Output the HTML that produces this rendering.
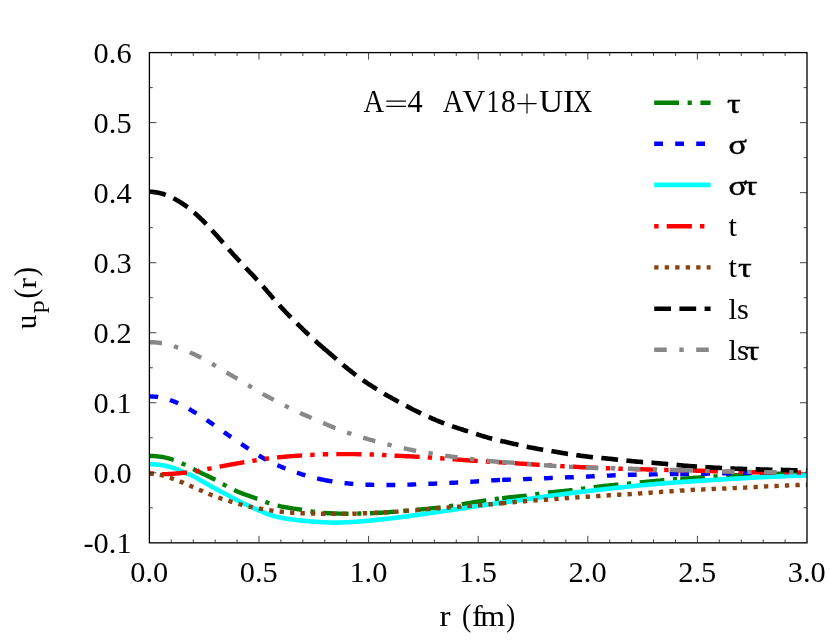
<!DOCTYPE html>
<html><head><meta charset="utf-8"><title>u_p(r)  A=4 AV18+UIX</title>
<style>html,body{margin:0;padding:0;background:#fff;}svg{display:block;will-change:transform;}text{font-family:"Liberation Serif",serif;fill:#000;}</style></head><body>
<svg width="830" height="642" viewBox="0 0 830 642">
<rect x="0" y="0" width="830" height="642" fill="#ffffff"/>
<defs><clipPath id="plot"><rect x="149.4" y="52.6" width="657.6" height="490.1"/></clipPath></defs>
<g fill="none" stroke-linecap="butt" stroke-linejoin="round" clip-path="url(#plot)">
<g stroke="#008000" stroke-width="4.4" stroke-dasharray="24.8 8.6 4.2 8.6">
<path d="M149.4,455.9 L150.4,455.9 L151.4,456.0 L152.4,456.0 L153.4,456.0 L154.4,456.1 L155.4,456.2 L156.4,456.3 L157.4,456.4 L158.4,456.5 L159.4,456.6 L160.4,456.7 L161.4,456.9 L162.4,457.0 L163.3,457.2 L164.3,457.4 L165.3,457.6 L166.3,457.8 L167.3,458.0 L168.3,458.3 L169.3,458.5 L170.3,458.8 L171.3,459.1 L172.3,459.5 L173.3,459.8 L174.3,460.1 L175.3,460.5 L176.3,460.9 L177.3,461.3 L178.3,461.7 L179.3,462.1 L180.3,462.6 L181.3,463.0 L182.3,463.5 L183.3,464.0 L184.3,464.4 L185.3,464.9 L186.3,465.4 L187.3,465.9 L188.3,466.4 L189.3,467.0 L190.3,467.5 L191.2,468.0 L192.2,468.5 L193.2,469.0 L194.2,469.5 L195.2,470.0 L196.2,470.6 L197.2,471.1 L198.2,471.5 L199.2,472.0 L200.2,472.5 L201.2,473.0 L202.2,473.5 L203.2,474.0 L204.2,474.4 L205.2,474.9 L206.2,475.4 L207.2,475.8 L208.2,476.3 L209.2,476.8 L210.2,477.3 L211.2,477.8 L212.2,478.3 L213.2,478.8 L214.2,479.3 L215.2,479.8 L216.2,480.4 L217.2,480.9 L218.1,481.5 L219.1,482.0 L220.1,482.6 L221.1,483.1 L222.1,483.7 L223.1,484.2 L224.1,484.8 L225.1,485.4 L226.1,485.9 L227.1,486.5 L228.1,487.0 L229.1,487.5 L230.1,488.1 L231.1,488.6 L232.1,489.1 L233.1,489.6 L234.1,490.0 L235.1,490.5 L236.1,490.9 L237.1,491.4 L238.1,491.8 L239.1,492.2 L240.1,492.6 L241.1,493.0 L242.1,493.4 L243.1,493.8 L244.1,494.1 L245.1,494.5 L246.0,494.8 L247.0,495.2 L248.0,495.5 L249.0,495.9 L250.0,496.2 L251.0,496.6 L252.0,496.9 L253.0,497.3 L254.0,497.7 L255.0,498.0 L256.0,498.4 L257.0,498.8 L258.0,499.1 L259.0,499.5 L260.0,499.9 L261.0,500.2 L262.0,500.6 L263.0,501.0 L264.0,501.4 L265.0,501.7 L266.0,502.1 L267.0,502.4 L268.0,502.8 L269.0,503.1 L270.0,503.4 L271.0,503.8 L272.0,504.1 L272.9,504.4 L273.9,504.7 L274.9,504.9 L275.9,505.2 L276.9,505.5 L277.9,505.7 L278.9,505.9 L279.9,506.2 L280.9,506.4 L281.9,506.6 L282.9,506.8 L283.9,507.0 L284.9,507.2 L285.9,507.4 L286.9,507.5 L287.9,507.7 L288.9,507.9 L289.9,508.0 L290.9,508.2 L291.9,508.3 L292.9,508.5 L293.9,508.6 L294.9,508.8 L295.9,508.9 L296.9,509.1 L297.9,509.2 L298.9,509.3 L299.9,509.5 L300.8,509.7 L301.8,509.8 L302.8,510.0 L303.8,510.2 L304.8,510.3 L305.8,510.5 L306.8,510.7 L307.8,510.8 L308.8,511.0 L309.8,511.1 L310.8,511.3 L311.8,511.5 L312.8,511.6 L313.8,511.7 L314.8,511.9 L315.8,512.0 L316.8,512.2 L317.8,512.3 L318.8,512.4 L319.8,512.5 L320.8,512.6 L321.8,512.7 L322.8,512.8 L323.8,512.9 L324.2,512.9"/>
<path d="M323.8,512.9 L324.8,513.0 L325.8,513.0 L326.8,513.1 L327.7,513.2 L328.7,513.2 L329.7,513.3 L330.7,513.3 L331.7,513.4 L332.7,513.4 L333.7,513.4 L334.7,513.5 L335.7,513.5 L336.7,513.5 L337.7,513.6 L338.7,513.6 L339.7,513.6 L340.7,513.6 L341.7,513.6 L342.7,513.6 L343.7,513.6 L344.7,513.6 L345.7,513.7 L346.7,513.7 L347.7,513.7 L348.7,513.7 L349.7,513.6 L350.7,513.6 L351.7,513.6 L352.7,513.6 L353.7,513.6 L354.7,513.6 L355.6,513.6 L356.6,513.6 L357.6,513.6 L358.6,513.5 L359.6,513.5 L360.6,513.5 L361.6,513.5 L362.6,513.5 L363.6,513.4 L364.6,513.4 L365.6,513.4 L366.6,513.4 L367.6,513.3 L368.6,513.3 L369.6,513.3 L370.6,513.2 L371.6,513.2 L372.6,513.1 L373.6,513.1 L374.6,513.1 L375.6,513.0 L376.6,513.0 L377.6,512.9 L378.6,512.8 L379.6,512.8 L380.6,512.7 L381.6,512.7 L382.5,512.6 L383.5,512.5 L384.5,512.5 L385.5,512.4 L386.5,512.3 L387.5,512.2 L388.5,512.2 L389.5,512.1 L390.5,512.0 L391.5,511.9 L392.5,511.9 L393.5,511.8 L394.5,511.7 L395.5,511.6 L396.5,511.6 L397.5,511.5 L398.5,511.4 L399.5,511.3 L400.5,511.2 L401.5,511.2 L402.5,511.1 L403.5,511.0 L404.5,510.9 L405.5,510.8 L406.5,510.7 L407.5,510.7 L408.5,510.6 L409.5,510.5 L410.4,510.4 L411.4,510.3 L412.4,510.2 L413.4,510.1 L414.4,510.1 L415.4,510.0 L416.4,509.9 L417.4,509.8 L418.4,509.7 L419.4,509.6 L420.4,509.5 L421.4,509.4 L422.4,509.3 L423.4,509.2 L424.4,509.1 L425.4,509.0 L426.4,508.9 L427.4,508.9 L428.4,508.8 L429.4,508.7 L430.4,508.5 L431.4,508.4 L432.4,508.3 L433.4,508.2 L434.4,508.1 L435.4,508.0 L436.4,507.9 L437.3,507.8 L438.3,507.7 L439.3,507.6 L440.3,507.4 L441.3,507.3 L442.3,507.2 L443.3,507.1 L444.3,506.9 L445.3,506.8 L446.3,506.7 L447.3,506.5 L448.3,506.4 L449.3,506.2 L450.3,506.1 L451.3,505.9 L452.3,505.8 L453.3,505.6 L454.3,505.4 L455.3,505.3 L456.3,505.1 L457.3,505.0 L458.3,504.8 L459.3,504.6 L460.3,504.5 L461.3,504.3 L462.3,504.1 L463.3,504.0 L464.3,503.8 L465.2,503.6 L466.2,503.5 L467.2,503.3 L468.2,503.1 L469.2,503.0 L470.2,502.8 L471.2,502.6 L472.2,502.5 L473.2,502.3 L474.2,502.2 L475.2,502.0 L476.2,501.9 L477.2,501.7 L478.2,501.6 L479.2,501.4 L480.2,501.3 L481.2,501.1 L482.2,500.9 L483.2,500.8 L484.2,500.6 L485.2,500.5 L486.2,500.3 L487.2,500.2 L488.2,500.1 L489.2,499.9 L490.2,499.8 L491.2,499.6 L492.1,499.5 L493.1,499.3 L494.1,499.2 L495.1,499.1 L496.1,498.9 L497.1,498.8 L498.1,498.7 L499.1,498.6 L500.1,498.4 L501.1,498.3 L502.4,498.2"/>
<path d="M502.1,498.2 L502.1,498.2 L503.1,498.1 L504.1,498.0 L505.1,497.9 L506.1,497.7 L507.1,497.6 L508.1,497.5 L509.1,497.4 L510.1,497.3 L511.1,497.2 L512.1,497.1 L513.1,497.0 L514.1,496.9 L515.1,496.8 L516.1,496.7 L517.1,496.6 L518.1,496.5 L519.1,496.4 L520.0,496.3 L521.0,496.2 L522.0,496.1 L523.0,496.0 L524.0,495.9 L525.0,495.8 L526.0,495.7 L527.0,495.5 L528.0,495.4 L529.0,495.3 L530.0,495.2 L531.0,495.0 L532.0,494.9 L533.0,494.7 L534.0,494.6 L535.0,494.5 L536.0,494.3 L537.0,494.2 L538.0,494.0 L539.0,493.9 L540.0,493.7 L541.0,493.6 L542.0,493.4 L543.0,493.3 L544.0,493.2 L545.0,493.0 L546.0,492.9 L546.9,492.8 L547.9,492.7 L548.9,492.5 L549.9,492.4 L550.9,492.3 L551.9,492.2 L552.9,492.1 L553.9,492.0 L554.9,491.9 L555.9,491.8 L556.9,491.7 L557.9,491.6 L558.9,491.5 L559.9,491.4 L560.9,491.3 L561.9,491.2 L562.9,491.1 L563.9,491.0 L564.9,490.9 L565.9,490.8 L566.9,490.7 L567.9,490.6 L568.9,490.4 L569.9,490.3 L570.9,490.2 L571.9,490.1 L572.9,490.0 L573.9,489.9 L574.8,489.8 L575.8,489.6 L576.8,489.5 L577.8,489.4 L578.8,489.2 L579.8,489.1 L580.8,489.0 L581.8,488.8 L582.8,488.7 L583.8,488.6 L584.8,488.4 L585.8,488.3 L586.8,488.2 L587.8,488.0 L588.8,487.9 L589.8,487.8 L590.8,487.6 L591.8,487.5 L592.8,487.4 L593.8,487.2 L594.8,487.1 L595.8,487.0 L596.8,486.9 L597.8,486.7 L598.8,486.6 L599.8,486.5 L600.8,486.4 L601.7,486.3 L602.7,486.1 L603.7,486.0 L604.7,485.9 L605.7,485.8 L606.7,485.7 L607.7,485.6 L608.7,485.5 L609.7,485.4 L610.7,485.3 L611.7,485.2 L612.7,485.1 L613.7,485.0 L614.7,484.9 L615.7,484.8 L616.7,484.7 L617.7,484.6 L618.7,484.5 L619.7,484.4 L620.7,484.3 L621.7,484.2 L622.7,484.1 L623.7,484.0 L624.7,483.9 L625.7,483.8 L626.7,483.7 L627.7,483.6 L628.7,483.6 L629.6,483.5 L630.6,483.4 L631.6,483.3 L632.6,483.2 L633.6,483.1 L634.6,483.0 L635.6,482.9 L636.6,482.8 L637.6,482.7 L638.6,482.6 L639.6,482.5 L640.6,482.4 L641.6,482.3 L642.6,482.2 L643.6,482.1 L644.6,482.0 L645.6,481.9 L646.6,481.8 L647.6,481.7 L648.6,481.6 L649.6,481.5 L650.6,481.4 L651.6,481.3 L652.6,481.2 L653.6,481.1 L654.6,481.0 L655.6,480.9 L656.5,480.8 L657.5,480.8 L658.5,480.7 L659.5,480.6 L660.5,480.5 L661.5,480.4 L662.5,480.3 L663.5,480.2 L664.5,480.1 L665.5,480.1 L666.5,480.0 L667.5,479.9 L668.5,479.8 L669.5,479.7 L670.5,479.7 L671.5,479.6 L672.5,479.5 L673.5,479.4 L674.5,479.3 L675.5,479.3 L676.5,479.2 L677.5,479.1 L678.5,479.0 L679.5,478.9 L680.6,478.9"/>
<path d="M680.2,478.9 L680.5,478.9 L681.5,478.8 L682.5,478.7 L683.5,478.6 L684.4,478.6 L685.4,478.5 L686.4,478.4 L687.4,478.4 L688.4,478.3 L689.4,478.2 L690.4,478.1 L691.4,478.1 L692.4,478.0 L693.4,477.9 L694.4,477.8 L695.4,477.8 L696.4,477.7 L697.4,477.6 L698.4,477.6 L699.4,477.5 L700.4,477.4 L701.4,477.4 L702.4,477.3 L703.4,477.2 L704.4,477.2 L705.4,477.1 L706.4,477.0 L707.4,476.9 L708.4,476.9 L709.4,476.8 L710.4,476.7 L711.3,476.7 L712.3,476.6 L713.3,476.5 L714.3,476.5 L715.3,476.4 L716.3,476.4 L717.3,476.3 L718.3,476.2 L719.3,476.2 L720.3,476.1 L721.3,476.1 L722.3,476.0 L723.3,475.9 L724.3,475.9 L725.3,475.8 L726.3,475.8 L727.3,475.7 L728.3,475.7 L729.3,475.6 L730.3,475.6 L731.3,475.5 L732.3,475.5 L733.3,475.4 L734.3,475.4 L735.3,475.3 L736.3,475.3 L737.3,475.2 L738.3,475.2 L739.2,475.1 L740.2,475.1 L741.2,475.0 L742.2,475.0 L743.2,475.0 L744.2,474.9 L745.2,474.9 L746.2,474.8 L747.2,474.8 L748.2,474.7 L749.2,474.7 L750.2,474.7 L751.2,474.6 L752.2,474.6 L753.2,474.6 L754.2,474.5 L755.2,474.5 L756.2,474.4 L757.2,474.4 L758.2,474.4 L759.2,474.3 L760.2,474.3 L761.2,474.3 L762.2,474.3 L763.2,474.2 L764.2,474.2 L765.2,474.2 L766.1,474.1 L767.1,474.1 L768.1,474.1 L769.1,474.1 L770.1,474.0 L771.1,474.0 L772.1,474.0 L773.1,474.0 L774.1,473.9 L775.1,473.9 L776.1,473.9 L777.1,473.9 L778.1,473.8 L779.1,473.8 L780.1,473.8 L781.1,473.8 L782.1,473.8 L783.1,473.7 L784.1,473.7 L785.1,473.7 L786.1,473.7 L787.1,473.7 L788.1,473.6 L789.1,473.6 L790.1,473.6 L791.1,473.6 L792.1,473.6 L793.1,473.6 L794.0,473.5 L795.0,473.5 L796.0,473.5 L797.0,473.5 L798.0,473.5 L799.0,473.5 L800.0,473.5 L801.0,473.5 L802.0,473.4 L803.0,473.4 L804.0,473.4 L805.0,473.4 L806.0,473.4 L807.0,473.4"/>
</g>
<g stroke="#0000ff" stroke-width="4.4" stroke-dasharray="8.8 12.2">
<path d="M149.4,396.4 L150.4,396.4 L151.4,396.5 L152.4,396.5 L153.4,396.6 L154.4,396.6 L155.4,396.7 L156.4,396.8 L157.4,396.9 L158.4,397.1 L159.4,397.2 L160.4,397.4 L161.4,397.6 L162.4,397.8 L163.3,398.0 L164.3,398.3 L165.3,398.5 L166.3,398.8 L167.3,399.1 L168.3,399.4 L169.3,399.7 L170.3,400.1 L171.3,400.5 L172.3,400.8 L173.3,401.2 L174.3,401.6 L175.3,402.0 L176.3,402.5 L177.3,402.9 L178.3,403.4 L179.3,403.8 L180.3,404.3 L181.3,404.8 L182.3,405.3 L183.3,405.8 L184.3,406.4 L185.3,406.9 L186.3,407.4 L187.3,408.0 L188.3,408.5 L189.3,409.1 L190.3,409.7 L191.2,410.3 L192.2,410.9 L193.2,411.5 L194.2,412.1 L195.2,412.7 L196.2,413.3 L197.2,413.9 L198.2,414.5 L199.2,415.2 L200.2,415.8 L201.2,416.4 L202.2,417.1 L203.2,417.7 L204.2,418.4 L205.2,419.0 L206.2,419.7 L207.2,420.4 L208.2,421.0 L209.2,421.7 L210.2,422.4 L211.2,423.1 L212.2,423.8 L213.2,424.5 L214.2,425.2 L215.2,425.9 L216.2,426.6 L217.2,427.3 L218.1,428.0 L219.1,428.7 L220.1,429.4 L221.1,430.1 L222.1,430.8 L223.1,431.5 L224.1,432.2 L225.1,432.9 L226.1,433.6 L227.1,434.3 L228.1,435.0 L229.1,435.7 L230.1,436.4 L231.1,437.1 L232.1,437.8 L233.1,438.4 L234.1,439.1 L235.1,439.8 L236.1,440.5 L237.1,441.1 L238.1,441.8 L239.1,442.5 L240.1,443.1 L241.1,443.8 L242.1,444.5 L243.1,445.2 L244.1,445.8 L245.1,446.5 L246.0,447.2 L247.0,447.8 L248.0,448.5 L249.0,449.2 L250.0,449.9 L251.0,450.5 L252.0,451.2 L253.0,451.8 L254.0,452.5 L255.0,453.1 L256.0,453.8 L257.0,454.4 L258.0,455.0 L259.0,455.6 L260.0,456.2 L261.0,456.8 L262.0,457.4 L263.0,458.0 L264.0,458.5 L265.0,459.1 L266.0,459.6 L267.0,460.2 L268.0,460.7 L269.0,461.2 L270.0,461.7 L271.0,462.2 L272.0,462.7 L272.9,463.2 L273.9,463.6 L274.9,464.1 L275.9,464.6 L276.9,465.0 L277.9,465.4 L278.9,465.9 L279.9,466.3 L280.9,466.7 L281.9,467.1 L282.9,467.5 L283.9,468.0 L284.9,468.3 L285.9,468.7 L286.9,469.1 L287.9,469.5 L288.9,469.9 L289.9,470.2 L290.9,470.6 L291.9,471.0 L292.9,471.3 L293.9,471.7 L294.9,472.0 L295.9,472.3 L296.9,472.7 L297.9,473.0 L298.9,473.3 L299.9,473.6 L300.8,474.0 L301.8,474.3 L302.8,474.6 L303.8,474.9 L304.8,475.2 L305.8,475.5 L306.8,475.7 L307.8,476.0 L308.8,476.3 L309.8,476.6 L310.8,476.8 L311.8,477.1 L312.8,477.4 L313.8,477.6 L314.8,477.9 L315.8,478.1 L316.8,478.4 L317.8,478.6 L318.8,478.8 L319.8,479.0 L320.8,479.3 L321.8,479.5 L322.8,479.7 L323.8,479.9 L324.2,480.0"/>
<path d="M323.8,479.9 L324.8,480.1 L325.8,480.3 L326.8,480.5 L327.7,480.7 L328.7,480.8 L329.7,481.0 L330.7,481.2 L331.7,481.3 L332.7,481.5 L333.7,481.7 L334.7,481.8 L335.7,482.0 L336.7,482.1 L337.7,482.3 L338.7,482.4 L339.7,482.5 L340.7,482.7 L341.7,482.8 L342.7,482.9 L343.7,483.0 L344.7,483.1 L345.7,483.2 L346.7,483.3 L347.7,483.4 L348.7,483.5 L349.7,483.6 L350.7,483.7 L351.7,483.8 L352.7,483.9 L353.7,484.0 L354.7,484.0 L355.6,484.1 L356.6,484.2 L357.6,484.2 L358.6,484.3 L359.6,484.4 L360.6,484.4 L361.6,484.5 L362.6,484.5 L363.6,484.6 L364.6,484.6 L365.6,484.6 L366.6,484.7 L367.6,484.7 L368.6,484.7 L369.6,484.8 L370.6,484.8 L371.6,484.8 L372.6,484.9 L373.6,484.9 L374.6,484.9 L375.6,484.9 L376.6,484.9 L377.6,484.9 L378.6,485.0 L379.6,485.0 L380.6,485.0 L381.6,485.0 L382.5,485.0 L383.5,485.0 L384.5,485.0 L385.5,485.0 L386.5,485.0 L387.5,485.0 L388.5,485.0 L389.5,485.0 L390.5,485.0 L391.5,485.0 L392.5,485.0 L393.5,485.0 L394.5,485.0 L395.5,485.0 L396.5,484.9 L397.5,484.9 L398.5,484.9 L399.5,484.9 L400.5,484.9 L401.5,484.8 L402.5,484.8 L403.5,484.8 L404.5,484.8 L405.5,484.7 L406.5,484.7 L407.5,484.7 L408.5,484.6 L409.5,484.6 L410.4,484.6 L411.4,484.5 L412.4,484.5 L413.4,484.5 L414.4,484.4 L415.4,484.4 L416.4,484.3 L417.4,484.3 L418.4,484.3 L419.4,484.2 L420.4,484.2 L421.4,484.2 L422.4,484.1 L423.4,484.1 L424.4,484.0 L425.4,484.0 L426.4,484.0 L427.4,483.9 L428.4,483.9 L429.4,483.8 L430.4,483.8 L431.4,483.7 L432.4,483.7 L433.4,483.7 L434.4,483.6 L435.4,483.6 L436.4,483.5 L437.3,483.5 L438.3,483.4 L439.3,483.4 L440.3,483.3 L441.3,483.3 L442.3,483.3 L443.3,483.2 L444.3,483.2 L445.3,483.1 L446.3,483.1 L447.3,483.0 L448.3,483.0 L449.3,482.9 L450.3,482.9 L451.3,482.8 L452.3,482.8 L453.3,482.7 L454.3,482.7 L455.3,482.6 L456.3,482.6 L457.3,482.5 L458.3,482.5 L459.3,482.4 L460.3,482.4 L461.3,482.3 L462.3,482.3 L463.3,482.2 L464.3,482.2 L465.2,482.1 L466.2,482.1 L467.2,482.0 L468.2,481.9 L469.2,481.9 L470.2,481.8 L471.2,481.8 L472.2,481.7 L473.2,481.6 L474.2,481.6 L475.2,481.5 L476.2,481.5 L477.2,481.4 L478.2,481.3 L479.2,481.3 L480.2,481.2 L481.2,481.1 L482.2,481.1 L483.2,481.0 L484.2,480.9 L485.2,480.9 L486.2,480.8 L487.2,480.7 L488.2,480.7 L489.2,480.6 L490.2,480.5 L491.2,480.5 L492.1,480.4 L493.1,480.3 L494.1,480.3 L495.1,480.2 L496.1,480.2 L497.1,480.1 L498.1,480.1 L499.1,480.0 L500.1,480.0 L501.1,479.9 L502.4,479.9"/>
<path d="M502.1,479.9 L502.1,479.9 L503.1,479.9 L504.1,479.8 L505.1,479.8 L506.1,479.8 L507.1,479.7 L508.1,479.7 L509.1,479.6 L510.1,479.6 L511.1,479.6 L512.1,479.5 L513.1,479.5 L514.1,479.5 L515.1,479.4 L516.1,479.4 L517.1,479.4 L518.1,479.4 L519.1,479.3 L520.0,479.3 L521.0,479.2 L522.0,479.2 L523.0,479.2 L524.0,479.1 L525.0,479.1 L526.0,479.1 L527.0,479.0 L528.0,479.0 L529.0,478.9 L530.0,478.9 L531.0,478.9 L532.0,478.8 L533.0,478.8 L534.0,478.7 L535.0,478.7 L536.0,478.6 L537.0,478.6 L538.0,478.6 L539.0,478.5 L540.0,478.5 L541.0,478.4 L542.0,478.4 L543.0,478.3 L544.0,478.3 L545.0,478.2 L546.0,478.2 L546.9,478.2 L547.9,478.1 L548.9,478.1 L549.9,478.0 L550.9,478.0 L551.9,477.9 L552.9,477.9 L553.9,477.9 L554.9,477.8 L555.9,477.8 L556.9,477.8 L557.9,477.7 L558.9,477.7 L559.9,477.6 L560.9,477.6 L561.9,477.6 L562.9,477.5 L563.9,477.5 L564.9,477.5 L565.9,477.4 L566.9,477.4 L567.9,477.3 L568.9,477.3 L569.9,477.3 L570.9,477.2 L571.9,477.2 L572.9,477.2 L573.9,477.1 L574.8,477.1 L575.8,477.0 L576.8,477.0 L577.8,477.0 L578.8,476.9 L579.8,476.9 L580.8,476.8 L581.8,476.8 L582.8,476.8 L583.8,476.7 L584.8,476.7 L585.8,476.6 L586.8,476.6 L587.8,476.5 L588.8,476.5 L589.8,476.5 L590.8,476.4 L591.8,476.4 L592.8,476.3 L593.8,476.3 L594.8,476.2 L595.8,476.2 L596.8,476.1 L597.8,476.1 L598.8,476.1 L599.8,476.0 L600.8,476.0 L601.7,475.9 L602.7,475.9 L603.7,475.8 L604.7,475.8 L605.7,475.7 L606.7,475.7 L607.7,475.6 L608.7,475.6 L609.7,475.6 L610.7,475.5 L611.7,475.5 L612.7,475.4 L613.7,475.4 L614.7,475.3 L615.7,475.3 L616.7,475.3 L617.7,475.2 L618.7,475.2 L619.7,475.1 L620.7,475.1 L621.7,475.1 L622.7,475.0 L623.7,475.0 L624.7,475.0 L625.7,474.9 L626.7,474.9 L627.7,474.9 L628.7,474.8 L629.6,474.8 L630.6,474.8 L631.6,474.8 L632.6,474.7 L633.6,474.7 L634.6,474.7 L635.6,474.7 L636.6,474.7 L637.6,474.7 L638.6,474.6 L639.6,474.6 L640.6,474.6 L641.6,474.6 L642.6,474.6 L643.6,474.6 L644.6,474.5 L645.6,474.5 L646.6,474.5 L647.6,474.5 L648.6,474.5 L649.6,474.5 L650.6,474.5 L651.6,474.4 L652.6,474.4 L653.6,474.4 L654.6,474.4 L655.6,474.4 L656.5,474.4 L657.5,474.4 L658.5,474.3 L659.5,474.3 L660.5,474.3 L661.5,474.3 L662.5,474.3 L663.5,474.3 L664.5,474.2 L665.5,474.2 L666.5,474.2 L667.5,474.2 L668.5,474.2 L669.5,474.2 L670.5,474.1 L671.5,474.1 L672.5,474.1 L673.5,474.1 L674.5,474.1 L675.5,474.1 L676.5,474.1 L677.5,474.0 L678.5,474.0 L679.5,474.0 L680.6,474.0"/>
<path d="M680.2,474.0 L680.5,474.0 L681.5,474.0 L682.5,474.0 L683.5,474.0 L684.4,474.0 L685.4,473.9 L686.4,473.9 L687.4,473.9 L688.4,473.9 L689.4,473.9 L690.4,473.9 L691.4,473.9 L692.4,473.8 L693.4,473.8 L694.4,473.8 L695.4,473.8 L696.4,473.8 L697.4,473.8 L698.4,473.8 L699.4,473.8 L700.4,473.7 L701.4,473.7 L702.4,473.7 L703.4,473.7 L704.4,473.7 L705.4,473.7 L706.4,473.7 L707.4,473.6 L708.4,473.6 L709.4,473.6 L710.4,473.6 L711.3,473.6 L712.3,473.6 L713.3,473.5 L714.3,473.5 L715.3,473.5 L716.3,473.5 L717.3,473.5 L718.3,473.5 L719.3,473.4 L720.3,473.4 L721.3,473.4 L722.3,473.4 L723.3,473.4 L724.3,473.4 L725.3,473.3 L726.3,473.3 L727.3,473.3 L728.3,473.3 L729.3,473.3 L730.3,473.2 L731.3,473.2 L732.3,473.2 L733.3,473.2 L734.3,473.2 L735.3,473.1 L736.3,473.1 L737.3,473.1 L738.3,473.1 L739.2,473.1 L740.2,473.0 L741.2,473.0 L742.2,473.0 L743.2,473.0 L744.2,473.0 L745.2,472.9 L746.2,472.9 L747.2,472.9 L748.2,472.9 L749.2,472.9 L750.2,472.9 L751.2,472.9 L752.2,472.8 L753.2,472.8 L754.2,472.8 L755.2,472.8 L756.2,472.8 L757.2,472.8 L758.2,472.8 L759.2,472.8 L760.2,472.8 L761.2,472.7 L762.2,472.7 L763.2,472.7 L764.2,472.7 L765.2,472.7 L766.1,472.7 L767.1,472.7 L768.1,472.7 L769.1,472.7 L770.1,472.7 L771.1,472.7 L772.1,472.6 L773.1,472.6 L774.1,472.6 L775.1,472.6 L776.1,472.6 L777.1,472.6 L778.1,472.6 L779.1,472.6 L780.1,472.6 L781.1,472.6 L782.1,472.6 L783.1,472.6 L784.1,472.6 L785.1,472.6 L786.1,472.5 L787.1,472.5 L788.1,472.5 L789.1,472.5 L790.1,472.5 L791.1,472.5 L792.1,472.5 L793.1,472.5 L794.0,472.5 L795.0,472.5 L796.0,472.5 L797.0,472.5 L798.0,472.5 L799.0,472.5 L800.0,472.5 L801.0,472.5 L802.0,472.5 L803.0,472.5 L804.0,472.5 L805.0,472.5 L806.0,472.5 L807.0,472.5"/>
</g>
<g stroke="#00ffff" stroke-width="4.6">
<path d="M149.4,463.9 L150.4,464.0 L151.4,464.1 L152.4,464.1 L153.4,464.2 L154.4,464.3 L155.4,464.4 L156.4,464.5 L157.4,464.6 L158.4,464.7 L159.4,464.8 L160.4,465.0 L161.4,465.1 L162.4,465.3 L163.3,465.4 L164.3,465.6 L165.3,465.8 L166.3,466.0 L167.3,466.2 L168.3,466.5 L169.3,466.7 L170.3,467.0 L171.3,467.3 L172.3,467.6 L173.3,467.9 L174.3,468.2 L175.3,468.6 L176.3,468.9 L177.3,469.3 L178.3,469.7 L179.3,470.2 L180.3,470.6 L181.3,471.1 L182.3,471.5 L183.3,472.0 L184.3,472.5 L185.3,473.0 L186.3,473.6 L187.3,473.9 L188.3,474.1 L189.3,474.3 L190.3,474.7 L191.2,475.2 L192.2,475.6 L193.2,476.1 L194.2,476.7 L195.2,477.2 L196.2,477.8 L197.2,478.4 L198.2,479.0 L199.2,479.5 L200.2,480.1 L201.2,480.7 L202.2,481.2 L203.2,481.8 L204.2,482.4 L205.2,482.9 L206.2,483.5 L207.2,484.1 L208.2,484.6 L209.2,485.2 L210.2,485.8 L211.2,486.4 L212.2,486.9 L213.2,487.5 L214.2,488.0 L215.2,488.5 L216.2,489.1 L217.2,489.6 L218.1,490.1 L219.1,490.6 L220.1,491.2 L221.1,491.7 L222.1,492.2 L223.1,492.7 L224.1,493.2 L225.1,493.8 L226.1,494.3 L227.1,494.8 L228.1,495.4 L229.1,495.9 L230.1,496.4 L231.1,497.0 L232.1,497.5 L233.1,498.1 L234.1,498.6 L235.1,499.1 L236.1,499.7 L237.1,500.2 L238.1,500.7 L239.1,501.2 L240.1,501.7 L241.1,502.2 L242.1,502.7 L243.1,503.2 L244.1,503.6 L245.1,504.1 L246.0,504.6 L247.0,505.0 L248.0,505.5 L249.0,505.9 L250.0,506.4 L251.0,506.8 L252.0,507.3 L253.0,507.8 L254.0,508.2 L255.0,508.7 L256.0,509.2 L257.0,509.6 L258.0,510.1 L259.0,510.5 L260.0,510.9 L261.0,511.3 L262.0,511.7 L263.0,512.1 L264.0,512.6 L265.0,513.0 L266.0,513.4 L267.0,513.7 L268.0,514.1 L269.0,514.5 L270.0,514.8 L271.0,515.1 L272.0,515.4 L272.9,515.7 L273.9,516.0 L274.9,516.2 L275.9,516.5 L276.9,516.7 L277.9,517.0 L278.9,517.2 L279.9,517.4 L280.9,517.6 L281.9,517.8 L282.9,518.0 L283.9,518.2 L284.9,518.4 L285.9,518.6 L286.9,518.7 L287.9,518.9 L288.9,519.0 L289.9,519.2 L290.9,519.3 L291.9,519.4 L292.9,519.6 L293.9,519.7 L294.9,519.8 L295.9,519.9 L296.9,520.1 L297.9,520.2 L298.9,520.3 L299.9,520.4 L300.8,520.5 L301.8,520.6 L302.8,520.7 L303.8,520.8 L304.8,520.9 L305.8,521.0 L306.8,521.1 L307.8,521.2 L308.8,521.3 L309.8,521.4 L310.8,521.5 L311.8,521.5 L312.8,521.6 L313.8,521.7 L314.8,521.8 L315.8,521.8 L316.8,521.9 L317.8,522.0 L318.8,522.0 L319.8,522.1 L320.8,522.1 L321.8,522.2 L322.8,522.2 L323.8,522.3 L324.8,522.3 L325.8,522.4 L326.8,522.4 L327.7,522.5 L328.7,522.5 L329.7,522.5 L330.7,522.5 L331.7,522.6 L332.7,522.6 L333.7,522.6 L334.7,522.6 L335.7,522.6 L336.7,522.6 L337.7,522.6 L338.7,522.6 L339.7,522.5 L340.7,522.5 L341.7,522.5 L342.7,522.5 L343.7,522.4 L344.7,522.4 L345.7,522.3 L346.7,522.3 L347.7,522.2 L348.7,522.2 L349.7,522.1 L350.7,522.1 L351.7,522.0 L352.7,522.0 L353.7,521.9 L354.7,521.8 L355.6,521.8 L356.6,521.7 L357.6,521.6 L358.6,521.6 L359.6,521.5 L360.6,521.4 L361.6,521.3 L362.6,521.2 L363.6,521.2 L364.6,521.1 L365.6,521.0 L366.6,520.9 L367.6,520.8 L368.6,520.7 L369.6,520.6 L370.6,520.5 L371.6,520.4 L372.6,520.3 L373.6,520.2 L374.6,520.1 L375.6,520.0 L376.6,519.9 L377.6,519.8 L378.6,519.7 L379.6,519.6 L380.6,519.5 L381.6,519.4 L382.5,519.3 L383.5,519.2 L384.5,519.1 L385.5,518.9 L386.5,518.8 L387.5,518.7 L388.5,518.6 L389.5,518.5 L390.5,518.4 L391.5,518.2 L392.5,518.1 L393.5,518.0 L394.5,517.9 L395.5,517.8 L396.5,517.6 L397.5,517.5 L398.5,517.4 L399.5,517.3 L400.5,517.1 L401.5,517.0 L402.5,516.9 L403.5,516.7 L404.5,516.6 L405.5,516.5 L406.5,516.4 L407.5,516.2 L408.5,516.1 L409.5,516.0 L410.4,515.8 L411.4,515.7 L412.4,515.6 L413.4,515.4 L414.4,515.3 L415.4,515.1 L416.4,515.0 L417.4,514.9 L418.4,514.7 L419.4,514.6 L420.4,514.5 L421.4,514.3 L422.4,514.2 L423.4,514.0 L424.4,513.9 L425.4,513.8 L426.4,513.6 L427.4,513.5 L428.4,513.3 L429.4,513.2 L430.4,513.0 L431.4,512.9 L432.4,512.8 L433.4,512.6 L434.4,512.5 L435.4,512.3 L436.4,512.2 L437.3,512.0 L438.3,511.9 L439.3,511.8 L440.3,511.6 L441.3,511.5 L442.3,511.3 L443.3,511.2 L444.3,511.0 L445.3,510.9 L446.3,510.7 L447.3,510.6 L448.3,510.5 L449.3,510.3 L450.3,510.2 L451.3,510.0 L452.3,509.9 L453.3,509.7 L454.3,509.6 L455.3,509.4 L456.3,509.3 L457.3,509.1 L458.3,509.0 L459.3,508.8 L460.3,508.7 L461.3,508.5 L462.3,508.4 L463.3,508.2 L464.3,508.1 L465.2,507.9 L466.2,507.8 L467.2,507.6 L468.2,507.5 L469.2,507.3 L470.2,507.1 L471.2,507.0 L472.2,506.8 L473.2,506.7 L474.2,506.5 L475.2,506.4 L476.2,506.2 L477.2,506.1 L478.2,505.9 L479.2,505.8 L480.2,505.7 L481.2,505.5 L482.2,505.4 L483.2,505.2 L484.2,505.1 L485.2,504.9 L486.2,504.8 L487.2,504.6 L488.2,504.5 L489.2,504.4 L490.2,504.2 L491.2,504.1 L492.1,504.0 L493.1,503.8 L494.1,503.7 L495.1,503.5 L496.1,503.4 L497.1,503.3 L498.1,503.1 L499.1,503.0 L500.1,502.9 L501.1,502.7 L502.1,502.6 L503.1,502.4 L504.1,502.3 L505.1,502.2 L506.1,502.0 L507.1,501.9 L508.1,501.8 L509.1,501.6 L510.1,501.5 L511.1,501.4 L512.1,501.2 L513.1,501.1 L514.1,501.0 L515.1,500.8 L516.1,500.7 L517.1,500.5 L518.1,500.4 L519.1,500.3 L520.0,500.1 L521.0,500.0 L522.0,499.9 L523.0,499.7 L524.0,499.6 L525.0,499.4 L526.0,499.3 L527.0,499.2 L528.0,499.0 L529.0,498.9 L530.0,498.7 L531.0,498.6 L532.0,498.5 L533.0,498.3 L534.0,498.2 L535.0,498.0 L536.0,497.9 L537.0,497.7 L538.0,497.6 L539.0,497.5 L540.0,497.3 L541.0,497.2 L542.0,497.0 L543.0,496.9 L544.0,496.8 L545.0,496.6 L546.0,496.5 L546.9,496.3 L547.9,496.2 L548.9,496.1 L549.9,495.9 L550.9,495.8 L551.9,495.6 L552.9,495.5 L553.9,495.4 L554.9,495.2 L555.9,495.1 L556.9,495.0 L557.9,494.8 L558.9,494.7 L559.9,494.6 L560.9,494.4 L561.9,494.3 L562.9,494.2 L563.9,494.0 L564.9,493.9 L565.9,493.8 L566.9,493.7 L567.9,493.5 L568.9,493.4 L569.9,493.3 L570.9,493.1 L571.9,493.0 L572.9,492.9 L573.9,492.8 L574.8,492.6 L575.8,492.5 L576.8,492.4 L577.8,492.3 L578.8,492.2 L579.8,492.0 L580.8,491.9 L581.8,491.8 L582.8,491.7 L583.8,491.6 L584.8,491.4 L585.8,491.3 L586.8,491.2 L587.8,491.1 L588.8,491.0 L589.8,490.8 L590.8,490.7 L591.8,490.6 L592.8,490.5 L593.8,490.4 L594.8,490.3 L595.8,490.1 L596.8,490.0 L597.8,489.9 L598.8,489.8 L599.8,489.7 L600.8,489.6 L601.7,489.5 L602.7,489.4 L603.7,489.2 L604.7,489.1 L605.7,489.0 L606.7,488.9 L607.7,488.8 L608.7,488.7 L609.7,488.6 L610.7,488.5 L611.7,488.3 L612.7,488.2 L613.7,488.1 L614.7,488.0 L615.7,487.9 L616.7,487.8 L617.7,487.7 L618.7,487.6 L619.7,487.5 L620.7,487.4 L621.7,487.3 L622.7,487.2 L623.7,487.1 L624.7,486.9 L625.7,486.8 L626.7,486.7 L627.7,486.6 L628.7,486.5 L629.6,486.4 L630.6,486.3 L631.6,486.2 L632.6,486.1 L633.6,486.0 L634.6,485.9 L635.6,485.8 L636.6,485.7 L637.6,485.6 L638.6,485.5 L639.6,485.4 L640.6,485.3 L641.6,485.3 L642.6,485.2 L643.6,485.1 L644.6,485.0 L645.6,484.9 L646.6,484.8 L647.6,484.7 L648.6,484.6 L649.6,484.5 L650.6,484.4 L651.6,484.4 L652.6,484.3 L653.6,484.2 L654.6,484.1 L655.6,484.0 L656.5,483.9 L657.5,483.8 L658.5,483.8 L659.5,483.7 L660.5,483.6 L661.5,483.5 L662.5,483.4 L663.5,483.4 L664.5,483.3 L665.5,483.2 L666.5,483.1 L667.5,483.0 L668.5,483.0 L669.5,482.9 L670.5,482.8 L671.5,482.7 L672.5,482.7 L673.5,482.6 L674.5,482.5 L675.5,482.4 L676.5,482.4 L677.5,482.3 L678.5,482.2 L679.5,482.2 L680.5,482.1 L681.5,482.0 L682.5,481.9 L683.5,481.9 L684.4,481.8 L685.4,481.7 L686.4,481.7 L687.4,481.6 L688.4,481.5 L689.4,481.5 L690.4,481.4 L691.4,481.3 L692.4,481.3 L693.4,481.2 L694.4,481.1 L695.4,481.1 L696.4,481.0 L697.4,480.9 L698.4,480.9 L699.4,480.8 L700.4,480.7 L701.4,480.7 L702.4,480.6 L703.4,480.5 L704.4,480.5 L705.4,480.4 L706.4,480.3 L707.4,480.3 L708.4,480.2 L709.4,480.2 L710.4,480.1 L711.3,480.0 L712.3,480.0 L713.3,479.9 L714.3,479.9 L715.3,479.8 L716.3,479.7 L717.3,479.7 L718.3,479.6 L719.3,479.6 L720.3,479.5 L721.3,479.4 L722.3,479.4 L723.3,479.3 L724.3,479.3 L725.3,479.2 L726.3,479.2 L727.3,479.1 L728.3,479.0 L729.3,479.0 L730.3,478.9 L731.3,478.9 L732.3,478.8 L733.3,478.8 L734.3,478.7 L735.3,478.6 L736.3,478.6 L737.3,478.5 L738.3,478.5 L739.2,478.4 L740.2,478.4 L741.2,478.3 L742.2,478.2 L743.2,478.2 L744.2,478.1 L745.2,478.1 L746.2,478.0 L747.2,478.0 L748.2,477.9 L749.2,477.9 L750.2,477.8 L751.2,477.8 L752.2,477.7 L753.2,477.6 L754.2,477.6 L755.2,477.5 L756.2,477.5 L757.2,477.4 L758.2,477.4 L759.2,477.3 L760.2,477.3 L761.2,477.2 L762.2,477.2 L763.2,477.1 L764.2,477.1 L765.2,477.0 L766.1,477.0 L767.1,476.9 L768.1,476.9 L769.1,476.9 L770.1,476.8 L771.1,476.8 L772.1,476.7 L773.1,476.7 L774.1,476.6 L775.1,476.6 L776.1,476.5 L777.1,476.5 L778.1,476.4 L779.1,476.4 L780.1,476.4 L781.1,476.3 L782.1,476.3 L783.1,476.2 L784.1,476.2 L785.1,476.1 L786.1,476.1 L787.1,476.1 L788.1,476.0 L789.1,476.0 L790.1,475.9 L791.1,475.9 L792.1,475.9 L793.1,475.8 L794.0,475.8 L795.0,475.7 L796.0,475.7 L797.0,475.7 L798.0,475.6 L799.0,475.6 L800.0,475.5 L801.0,475.5 L802.0,475.5 L803.0,475.4 L804.0,475.4 L805.0,475.4 L806.0,475.3 L807.0,475.3"/>
</g>
<g stroke="#ff0000" stroke-width="4.4" stroke-dasharray="4.4 8.1 25.2 8.1 4.4 8.1">
<path d="M149.4,473.6 L150.4,473.6 L151.4,473.6 L152.4,473.7 L153.4,473.7 L154.4,473.8 L155.4,473.8 L156.4,473.9 L157.4,473.9 L158.4,474.0 L159.4,474.0 L160.4,474.1 L161.4,474.1 L162.4,474.1 L163.3,474.1 L164.3,474.1 L165.3,474.1 L166.3,474.1 L167.3,474.1 L168.3,474.0 L169.3,474.0 L170.3,473.9 L171.3,473.9 L172.3,473.8 L173.3,473.7 L174.3,473.6 L175.3,473.6 L176.3,473.5 L177.3,473.4 L178.3,473.3 L179.3,473.2 L180.3,473.1 L181.3,473.0 L182.3,472.9 L183.3,472.8 L184.3,472.7 L185.3,472.6 L186.3,472.5 L187.3,472.4 L188.3,472.3 L189.3,472.1 L190.3,472.0 L191.2,471.9 L192.2,471.7 L193.2,471.6 L194.2,471.5 L195.2,471.3 L196.2,471.1 L197.2,471.0 L198.2,470.8 L199.2,470.6 L200.2,470.5 L201.2,470.3 L202.2,470.1 L203.2,469.9 L204.2,469.7 L205.2,469.5 L206.2,469.3 L207.2,469.1 L208.2,468.9 L209.2,468.7 L210.2,468.5 L211.2,468.3 L212.2,468.1 L213.2,467.9 L214.2,467.7 L215.2,467.5 L216.2,467.3 L217.2,467.1 L218.1,466.9 L219.1,466.8 L220.1,466.6 L221.1,466.4 L222.1,466.2 L223.1,466.0 L224.1,465.8 L225.1,465.6 L226.1,465.4 L227.1,465.2 L228.1,465.1 L229.1,464.9 L230.1,464.7 L231.1,464.5 L232.1,464.3 L233.1,464.2 L234.1,464.0 L235.1,463.8 L236.1,463.6 L237.1,463.4 L238.1,463.3 L239.1,463.1 L240.1,462.9 L241.1,462.7 L242.1,462.6 L243.1,462.4 L244.1,462.2 L245.1,462.1 L246.0,461.9 L247.0,461.8 L248.0,461.6 L249.0,461.4 L250.0,461.3 L251.0,461.1 L252.0,461.0 L253.0,460.8 L254.0,460.7 L255.0,460.5 L256.0,460.3 L257.0,460.2 L258.0,460.0 L259.0,459.9 L260.0,459.7 L261.0,459.6 L262.0,459.4 L263.0,459.2 L264.0,459.1 L265.0,458.9 L266.0,458.8 L267.0,458.7 L268.0,458.5 L269.0,458.4 L270.0,458.3 L271.0,458.1 L272.0,458.0 L272.9,457.9 L273.9,457.8 L274.9,457.7 L275.9,457.6 L276.9,457.5 L277.9,457.4 L278.9,457.3 L279.9,457.2 L280.9,457.1 L281.9,457.0 L282.9,456.9 L283.9,456.8 L284.9,456.7 L285.9,456.6 L286.9,456.5 L287.9,456.4 L288.9,456.4 L289.9,456.3 L290.9,456.2 L291.9,456.1 L292.9,456.1 L293.9,456.0 L294.9,455.9 L295.9,455.9 L296.9,455.8 L297.9,455.8 L298.9,455.7 L299.9,455.6 L300.8,455.6 L301.8,455.5 L302.8,455.5 L303.8,455.4 L304.8,455.3 L305.8,455.3 L306.8,455.2 L307.8,455.2 L308.8,455.1 L309.8,455.0 L310.8,455.0 L311.8,454.9 L312.8,454.9 L313.8,454.8 L314.8,454.8 L315.8,454.7 L316.8,454.7 L317.8,454.6 L318.8,454.6 L319.8,454.5 L320.8,454.5 L321.8,454.4 L322.8,454.4 L323.8,454.4 L324.2,454.4"/>
<path d="M323.8,454.4 L324.8,454.3 L325.8,454.3 L326.8,454.3 L327.7,454.2 L328.7,454.2 L329.7,454.2 L330.7,454.2 L331.7,454.2 L332.7,454.1 L333.7,454.1 L334.7,454.1 L335.7,454.1 L336.7,454.1 L337.7,454.1 L338.7,454.1 L339.7,454.1 L340.7,454.1 L341.7,454.1 L342.7,454.1 L343.7,454.1 L344.7,454.1 L345.7,454.1 L346.7,454.1 L347.7,454.1 L348.7,454.1 L349.7,454.1 L350.7,454.1 L351.7,454.1 L352.7,454.1 L353.7,454.1 L354.7,454.1 L355.6,454.1 L356.6,454.1 L357.6,454.2 L358.6,454.2 L359.6,454.2 L360.6,454.2 L361.6,454.2 L362.6,454.3 L363.6,454.3 L364.6,454.3 L365.6,454.3 L366.6,454.3 L367.6,454.4 L368.6,454.4 L369.6,454.4 L370.6,454.5 L371.6,454.5 L372.6,454.5 L373.6,454.6 L374.6,454.6 L375.6,454.6 L376.6,454.7 L377.6,454.7 L378.6,454.8 L379.6,454.8 L380.6,454.9 L381.6,454.9 L382.5,455.0 L383.5,455.0 L384.5,455.1 L385.5,455.1 L386.5,455.2 L387.5,455.2 L388.5,455.3 L389.5,455.3 L390.5,455.4 L391.5,455.5 L392.5,455.5 L393.5,455.6 L394.5,455.6 L395.5,455.7 L396.5,455.7 L397.5,455.8 L398.5,455.8 L399.5,455.9 L400.5,455.9 L401.5,456.0 L402.5,456.0 L403.5,456.1 L404.5,456.1 L405.5,456.2 L406.5,456.2 L407.5,456.2 L408.5,456.3 L409.5,456.3 L410.4,456.4 L411.4,456.4 L412.4,456.5 L413.4,456.5 L414.4,456.6 L415.4,456.6 L416.4,456.7 L417.4,456.7 L418.4,456.8 L419.4,456.9 L420.4,456.9 L421.4,457.0 L422.4,457.0 L423.4,457.1 L424.4,457.2 L425.4,457.2 L426.4,457.3 L427.4,457.3 L428.4,457.4 L429.4,457.5 L430.4,457.5 L431.4,457.6 L432.4,457.7 L433.4,457.8 L434.4,457.8 L435.4,457.9 L436.4,458.0 L437.3,458.0 L438.3,458.1 L439.3,458.2 L440.3,458.3 L441.3,458.3 L442.3,458.4 L443.3,458.5 L444.3,458.6 L445.3,458.6 L446.3,458.7 L447.3,458.8 L448.3,458.9 L449.3,458.9 L450.3,459.0 L451.3,459.1 L452.3,459.2 L453.3,459.3 L454.3,459.3 L455.3,459.4 L456.3,459.5 L457.3,459.6 L458.3,459.6 L459.3,459.7 L460.3,459.8 L461.3,459.9 L462.3,459.9 L463.3,460.0 L464.3,460.1 L465.2,460.1 L466.2,460.2 L467.2,460.3 L468.2,460.4 L469.2,460.4 L470.2,460.5 L471.2,460.6 L472.2,460.6 L473.2,460.7 L474.2,460.8 L475.2,460.8 L476.2,460.9 L477.2,460.9 L478.2,461.0 L479.2,461.1 L480.2,461.1 L481.2,461.2 L482.2,461.3 L483.2,461.3 L484.2,461.4 L485.2,461.4 L486.2,461.5 L487.2,461.6 L488.2,461.6 L489.2,461.7 L490.2,461.8 L491.2,461.8 L492.1,461.9 L493.1,461.9 L494.1,462.0 L495.1,462.1 L496.1,462.1 L497.1,462.2 L498.1,462.2 L499.1,462.3 L500.1,462.4 L501.1,462.4 L502.4,462.5"/>
<path d="M502.1,462.5 L502.1,462.5 L503.1,462.5 L504.1,462.6 L505.1,462.7 L506.1,462.7 L507.1,462.8 L508.1,462.9 L509.1,462.9 L510.1,463.0 L511.1,463.0 L512.1,463.1 L513.1,463.2 L514.1,463.2 L515.1,463.3 L516.1,463.3 L517.1,463.4 L518.1,463.5 L519.1,463.5 L520.0,463.6 L521.0,463.6 L522.0,463.7 L523.0,463.8 L524.0,463.8 L525.0,463.9 L526.0,464.0 L527.0,464.0 L528.0,464.1 L529.0,464.1 L530.0,464.2 L531.0,464.3 L532.0,464.3 L533.0,464.4 L534.0,464.5 L535.0,464.5 L536.0,464.6 L537.0,464.7 L538.0,464.7 L539.0,464.8 L540.0,464.8 L541.0,464.9 L542.0,465.0 L543.0,465.0 L544.0,465.1 L545.0,465.1 L546.0,465.2 L546.9,465.3 L547.9,465.3 L548.9,465.4 L549.9,465.5 L550.9,465.5 L551.9,465.6 L552.9,465.6 L553.9,465.7 L554.9,465.7 L555.9,465.8 L556.9,465.9 L557.9,465.9 L558.9,466.0 L559.9,466.0 L560.9,466.1 L561.9,466.1 L562.9,466.2 L563.9,466.3 L564.9,466.3 L565.9,466.4 L566.9,466.4 L567.9,466.5 L568.9,466.5 L569.9,466.6 L570.9,466.6 L571.9,466.7 L572.9,466.7 L573.9,466.8 L574.8,466.8 L575.8,466.9 L576.8,466.9 L577.8,467.0 L578.8,467.0 L579.8,467.1 L580.8,467.2 L581.8,467.2 L582.8,467.2 L583.8,467.3 L584.8,467.3 L585.8,467.4 L586.8,467.4 L587.8,467.5 L588.8,467.5 L589.8,467.6 L590.8,467.6 L591.8,467.7 L592.8,467.7 L593.8,467.8 L594.8,467.8 L595.8,467.8 L596.8,467.9 L597.8,467.9 L598.8,468.0 L599.8,468.0 L600.8,468.0 L601.7,468.1 L602.7,468.1 L603.7,468.2 L604.7,468.2 L605.7,468.2 L606.7,468.3 L607.7,468.3 L608.7,468.3 L609.7,468.4 L610.7,468.4 L611.7,468.4 L612.7,468.5 L613.7,468.5 L614.7,468.5 L615.7,468.6 L616.7,468.6 L617.7,468.6 L618.7,468.7 L619.7,468.7 L620.7,468.7 L621.7,468.8 L622.7,468.8 L623.7,468.8 L624.7,468.8 L625.7,468.9 L626.7,468.9 L627.7,468.9 L628.7,469.0 L629.6,469.0 L630.6,469.0 L631.6,469.0 L632.6,469.1 L633.6,469.1 L634.6,469.1 L635.6,469.2 L636.6,469.2 L637.6,469.2 L638.6,469.2 L639.6,469.3 L640.6,469.3 L641.6,469.3 L642.6,469.3 L643.6,469.4 L644.6,469.4 L645.6,469.4 L646.6,469.5 L647.6,469.5 L648.6,469.5 L649.6,469.5 L650.6,469.6 L651.6,469.6 L652.6,469.6 L653.6,469.6 L654.6,469.7 L655.6,469.7 L656.5,469.7 L657.5,469.7 L658.5,469.8 L659.5,469.8 L660.5,469.8 L661.5,469.8 L662.5,469.9 L663.5,469.9 L664.5,469.9 L665.5,469.9 L666.5,470.0 L667.5,470.0 L668.5,470.0 L669.5,470.0 L670.5,470.0 L671.5,470.1 L672.5,470.1 L673.5,470.1 L674.5,470.1 L675.5,470.2 L676.5,470.2 L677.5,470.2 L678.5,470.2 L679.5,470.3 L680.6,470.3"/>
<path d="M680.2,470.3 L680.5,470.3 L681.5,470.3 L682.5,470.3 L683.5,470.4 L684.4,470.4 L685.4,470.4 L686.4,470.4 L687.4,470.4 L688.4,470.5 L689.4,470.5 L690.4,470.5 L691.4,470.5 L692.4,470.6 L693.4,470.6 L694.4,470.6 L695.4,470.6 L696.4,470.7 L697.4,470.7 L698.4,470.7 L699.4,470.7 L700.4,470.8 L701.4,470.8 L702.4,470.8 L703.4,470.9 L704.4,470.9 L705.4,470.9 L706.4,470.9 L707.4,471.0 L708.4,471.0 L709.4,471.0 L710.4,471.1 L711.3,471.1 L712.3,471.1 L713.3,471.2 L714.3,471.2 L715.3,471.2 L716.3,471.3 L717.3,471.3 L718.3,471.3 L719.3,471.3 L720.3,471.4 L721.3,471.4 L722.3,471.4 L723.3,471.5 L724.3,471.5 L725.3,471.5 L726.3,471.6 L727.3,471.6 L728.3,471.6 L729.3,471.7 L730.3,471.7 L731.3,471.7 L732.3,471.7 L733.3,471.8 L734.3,471.8 L735.3,471.8 L736.3,471.9 L737.3,471.9 L738.3,471.9 L739.2,471.9 L740.2,472.0 L741.2,472.0 L742.2,472.0 L743.2,472.0 L744.2,472.0 L745.2,472.1 L746.2,472.1 L747.2,472.1 L748.2,472.1 L749.2,472.1 L750.2,472.2 L751.2,472.2 L752.2,472.2 L753.2,472.2 L754.2,472.2 L755.2,472.2 L756.2,472.2 L757.2,472.3 L758.2,472.3 L759.2,472.3 L760.2,472.3 L761.2,472.3 L762.2,472.3 L763.2,472.3 L764.2,472.3 L765.2,472.3 L766.1,472.3 L767.1,472.4 L768.1,472.4 L769.1,472.4 L770.1,472.4 L771.1,472.4 L772.1,472.4 L773.1,472.4 L774.1,472.4 L775.1,472.4 L776.1,472.4 L777.1,472.4 L778.1,472.4 L779.1,472.4 L780.1,472.4 L781.1,472.4 L782.1,472.4 L783.1,472.4 L784.1,472.4 L785.1,472.4 L786.1,472.4 L787.1,472.4 L788.1,472.4 L789.1,472.4 L790.1,472.4 L791.1,472.5 L792.1,472.5 L793.1,472.5 L794.0,472.5 L795.0,472.5 L796.0,472.5 L797.0,472.5 L798.0,472.5 L799.0,472.5 L800.0,472.5 L801.0,472.5 L802.0,472.5 L803.0,472.5 L804.0,472.5 L805.0,472.5 L806.0,472.5 L807.0,472.5"/>
</g>
<g stroke="#8b4110" stroke-width="4.4" stroke-dasharray="4.3 6.2">
<path d="M149.4,473.5 L150.4,473.5 L151.4,473.6 L152.4,473.7 L153.4,473.7 L154.4,473.9 L155.4,474.0 L156.4,474.2 L157.4,474.3 L158.4,474.5 L159.4,474.7 L160.4,474.9 L161.4,475.2 L162.4,475.4 L163.3,475.7 L164.3,476.0 L165.3,476.2 L166.3,476.5 L167.3,476.8 L168.3,477.2 L169.3,477.5 L170.3,477.8 L171.3,478.2 L172.3,478.6 L173.3,478.9 L174.3,479.3 L175.3,479.7 L176.3,480.1 L177.3,480.4 L178.3,480.8 L179.3,481.2 L180.3,481.6 L181.3,482.0 L182.3,482.4 L183.3,482.8 L184.3,483.3 L185.3,483.7 L186.3,484.1 L187.3,484.5 L188.3,484.9 L189.3,485.3 L190.3,485.8 L191.2,486.2 L192.2,486.6 L193.2,487.1 L194.2,487.5 L195.2,487.9 L196.2,488.4 L197.2,488.8 L198.2,489.3 L199.2,489.7 L200.2,490.2 L201.2,490.6 L202.2,491.0 L203.2,491.5 L204.2,491.9 L205.2,492.4 L206.2,492.8 L207.2,493.2 L208.2,493.6 L209.2,494.1 L210.2,494.5 L211.2,494.9 L212.2,495.3 L213.2,495.6 L214.2,496.0 L215.2,496.4 L216.2,496.8 L217.2,497.1 L218.1,497.5 L219.1,497.8 L220.1,498.1 L221.1,498.5 L222.1,498.8 L223.1,499.1 L224.1,499.5 L225.1,499.8 L226.1,500.1 L227.1,500.4 L228.1,500.7 L229.1,501.0 L230.1,501.3 L231.1,501.6 L232.1,502.0 L233.1,502.3 L234.1,502.6 L235.1,502.9 L236.1,503.2 L237.1,503.4 L238.1,503.7 L239.1,504.0 L240.1,504.3 L241.1,504.6 L242.1,504.8 L243.1,505.1 L244.1,505.3 L245.1,505.6 L246.0,505.8 L247.0,506.1 L248.0,506.3 L249.0,506.5 L250.0,506.8 L251.0,507.0 L252.0,507.2 L253.0,507.4 L254.0,507.6 L255.0,507.8 L256.0,508.0 L257.0,508.2 L258.0,508.3 L259.0,508.5 L260.0,508.7 L261.0,508.9 L262.0,509.0 L263.0,509.2 L264.0,509.4 L265.0,509.5 L266.0,509.7 L267.0,509.9 L268.0,510.0 L269.0,510.2 L270.0,510.3 L271.0,510.5 L272.0,510.6 L272.9,510.7 L273.9,510.9 L274.9,511.0 L275.9,511.2 L276.9,511.3 L277.9,511.4 L278.9,511.5 L279.9,511.6 L280.9,511.7 L281.9,511.8 L282.9,511.9 L283.9,512.0 L284.9,512.1 L285.9,512.2 L286.9,512.3 L287.9,512.4 L288.9,512.4 L289.9,512.5 L290.9,512.6 L291.9,512.7 L292.9,512.7 L293.9,512.8 L294.9,512.8 L295.9,512.9 L296.9,513.0 L297.9,513.0 L298.9,513.1 L299.9,513.1 L300.8,513.2 L301.8,513.2 L302.8,513.2 L303.8,513.3 L304.8,513.3 L305.8,513.3 L306.8,513.4 L307.8,513.4 L308.8,513.4 L309.8,513.4 L310.8,513.5 L311.8,513.5 L312.8,513.5 L313.8,513.5 L314.8,513.5 L315.8,513.6 L316.8,513.6 L317.8,513.6 L318.8,513.6 L319.8,513.6 L320.8,513.7 L321.2,513.7"/>
<path d="M320.9,513.7 L321.8,513.7 L322.8,513.7 L323.8,513.7 L324.8,513.7 L325.8,513.7 L326.8,513.8 L327.7,513.8 L328.7,513.8 L329.7,513.8 L330.7,513.8 L331.7,513.8 L332.7,513.8 L333.7,513.8 L334.7,513.9 L335.7,513.9 L336.7,513.9 L337.7,513.9 L338.7,513.9 L339.7,513.9 L340.7,513.9 L341.7,513.9 L342.7,513.9 L343.7,513.9 L344.7,513.9 L345.7,513.9 L346.7,513.9 L347.7,513.8 L348.7,513.8 L349.7,513.8 L350.7,513.8 L351.7,513.8 L352.7,513.7 L353.7,513.7 L354.7,513.7 L355.6,513.6 L356.6,513.6 L357.6,513.6 L358.6,513.5 L359.6,513.5 L360.6,513.5 L361.6,513.4 L362.6,513.4 L363.6,513.3 L364.6,513.3 L365.6,513.3 L366.6,513.2 L367.6,513.2 L368.6,513.1 L369.6,513.1 L370.6,513.1 L371.6,513.0 L372.6,513.0 L373.6,512.9 L374.6,512.9 L375.6,512.8 L376.6,512.8 L377.6,512.7 L378.6,512.7 L379.6,512.6 L380.6,512.6 L381.6,512.5 L382.5,512.5 L383.5,512.4 L384.5,512.4 L385.5,512.3 L386.5,512.3 L387.5,512.2 L388.5,512.2 L389.5,512.1 L390.5,512.0 L391.5,512.0 L392.5,511.9 L393.5,511.8 L394.5,511.8 L395.5,511.7 L396.5,511.6 L397.5,511.6 L398.5,511.5 L399.5,511.4 L400.5,511.4 L401.5,511.3 L402.5,511.2 L403.5,511.1 L404.5,511.1 L405.5,511.0 L406.5,510.9 L407.5,510.8 L408.5,510.7 L409.5,510.7 L410.4,510.6 L411.4,510.5 L412.4,510.4 L413.4,510.3 L414.4,510.2 L415.4,510.2 L416.4,510.1 L417.4,510.0 L418.4,509.9 L419.4,509.8 L420.4,509.7 L421.4,509.6 L422.4,509.6 L423.4,509.5 L424.4,509.4 L425.4,509.3 L426.4,509.2 L427.4,509.1 L428.4,509.1 L429.4,509.0 L430.4,508.9 L431.4,508.8 L432.4,508.7 L433.4,508.7 L434.4,508.6 L435.4,508.5 L436.4,508.4 L437.3,508.3 L438.3,508.3 L439.3,508.2 L440.3,508.1 L441.3,508.0 L442.3,508.0 L443.3,507.9 L444.3,507.8 L445.3,507.7 L446.3,507.7 L447.3,507.6 L448.3,507.5 L449.3,507.4 L450.3,507.3 L451.3,507.3 L452.3,507.2 L453.3,507.1 L454.3,507.0 L455.3,507.0 L456.3,506.9 L457.3,506.8 L458.3,506.7 L459.3,506.6 L460.3,506.6 L461.3,506.5 L462.3,506.4 L463.3,506.3 L464.3,506.3 L465.2,506.2 L466.2,506.1 L467.2,506.0 L468.2,506.0 L469.2,505.9 L470.2,505.8 L471.2,505.8 L472.2,505.7 L473.2,505.6 L474.2,505.6 L475.2,505.5 L476.2,505.4 L477.2,505.4 L478.2,505.3 L479.2,505.2 L480.2,505.1 L481.2,505.1 L482.2,505.0 L483.2,504.9 L484.2,504.8 L485.2,504.8 L486.2,504.7 L487.2,504.6 L488.2,504.5 L489.2,504.4 L490.2,504.3 L491.2,504.2 L492.1,504.2 L493.1,504.1 L494.1,504.0 L495.1,503.9 L496.1,503.8 L497.1,503.7 L498.1,503.6 L499.1,503.5 L500.1,503.4 L501.1,503.3 L502.4,503.2"/>
<path d="M502.1,503.3 L502.1,503.2 L503.1,503.2 L504.1,503.1 L505.1,503.0 L506.1,502.9 L507.1,502.8 L508.1,502.7 L509.1,502.6 L510.1,502.5 L511.1,502.4 L512.1,502.3 L513.1,502.2 L514.1,502.1 L515.1,502.0 L516.1,501.9 L517.1,501.8 L518.1,501.7 L519.1,501.7 L520.0,501.6 L521.0,501.5 L522.0,501.4 L523.0,501.3 L524.0,501.2 L525.0,501.2 L526.0,501.1 L527.0,501.0 L528.0,500.9 L529.0,500.9 L530.0,500.8 L531.0,500.7 L532.0,500.6 L533.0,500.6 L534.0,500.5 L535.0,500.4 L536.0,500.4 L537.0,500.3 L538.0,500.2 L539.0,500.2 L540.0,500.1 L541.0,500.0 L542.0,500.0 L543.0,499.9 L544.0,499.8 L545.0,499.8 L546.0,499.7 L546.9,499.6 L547.9,499.6 L548.9,499.5 L549.9,499.4 L550.9,499.3 L551.9,499.3 L552.9,499.2 L553.9,499.1 L554.9,499.0 L555.9,499.0 L556.9,498.9 L557.9,498.8 L558.9,498.7 L559.9,498.7 L560.9,498.6 L561.9,498.5 L562.9,498.4 L563.9,498.4 L564.9,498.3 L565.9,498.2 L566.9,498.1 L567.9,498.1 L568.9,498.0 L569.9,497.9 L570.9,497.9 L571.9,497.8 L572.9,497.7 L573.9,497.6 L574.8,497.6 L575.8,497.5 L576.8,497.4 L577.8,497.4 L578.8,497.3 L579.8,497.2 L580.8,497.2 L581.8,497.1 L582.8,497.0 L583.8,497.0 L584.8,496.9 L585.8,496.8 L586.8,496.8 L587.8,496.7 L588.8,496.6 L589.8,496.6 L590.8,496.5 L591.8,496.4 L592.8,496.4 L593.8,496.3 L594.8,496.2 L595.8,496.2 L596.8,496.1 L597.8,496.0 L598.8,496.0 L599.8,495.9 L600.8,495.8 L601.7,495.8 L602.7,495.7 L603.7,495.6 L604.7,495.6 L605.7,495.5 L606.7,495.5 L607.7,495.4 L608.7,495.3 L609.7,495.3 L610.7,495.2 L611.7,495.2 L612.7,495.1 L613.7,495.0 L614.7,495.0 L615.7,494.9 L616.7,494.9 L617.7,494.8 L618.7,494.8 L619.7,494.7 L620.7,494.6 L621.7,494.6 L622.7,494.5 L623.7,494.5 L624.7,494.4 L625.7,494.4 L626.7,494.3 L627.7,494.2 L628.7,494.2 L629.6,494.1 L630.6,494.1 L631.6,494.0 L632.6,493.9 L633.6,493.9 L634.6,493.8 L635.6,493.7 L636.6,493.7 L637.6,493.6 L638.6,493.5 L639.6,493.5 L640.6,493.4 L641.6,493.3 L642.6,493.2 L643.6,493.2 L644.6,493.1 L645.6,493.0 L646.6,493.0 L647.6,492.9 L648.6,492.8 L649.6,492.7 L650.6,492.7 L651.6,492.6 L652.6,492.5 L653.6,492.5 L654.6,492.4 L655.6,492.3 L656.5,492.3 L657.5,492.2 L658.5,492.1 L659.5,492.1 L660.5,492.0 L661.5,491.9 L662.5,491.8 L663.5,491.8 L664.5,491.7 L665.5,491.6 L666.5,491.6 L667.5,491.5 L668.5,491.4 L669.5,491.4 L670.5,491.3 L671.5,491.2 L672.5,491.2 L673.5,491.1 L674.5,491.0 L675.5,491.0 L676.5,490.9 L677.5,490.8 L678.5,490.8 L679.5,490.7 L680.6,490.6"/>
<path d="M680.2,490.7 L680.5,490.6 L681.5,490.6 L682.5,490.5 L683.5,490.5 L684.4,490.4 L685.4,490.3 L686.4,490.3 L687.4,490.2 L688.4,490.2 L689.4,490.1 L690.4,490.1 L691.4,490.0 L692.4,489.9 L693.4,489.9 L694.4,489.8 L695.4,489.8 L696.4,489.7 L697.4,489.7 L698.4,489.6 L699.4,489.6 L700.4,489.5 L701.4,489.5 L702.4,489.5 L703.4,489.4 L704.4,489.4 L705.4,489.3 L706.4,489.3 L707.4,489.2 L708.4,489.2 L709.4,489.2 L710.4,489.1 L711.3,489.1 L712.3,489.0 L713.3,489.0 L714.3,488.9 L715.3,488.9 L716.3,488.9 L717.3,488.8 L718.3,488.8 L719.3,488.7 L720.3,488.7 L721.3,488.7 L722.3,488.6 L723.3,488.6 L724.3,488.5 L725.3,488.5 L726.3,488.5 L727.3,488.4 L728.3,488.4 L729.3,488.3 L730.3,488.3 L731.3,488.2 L732.3,488.2 L733.3,488.1 L734.3,488.1 L735.3,488.1 L736.3,488.0 L737.3,488.0 L738.3,487.9 L739.2,487.9 L740.2,487.8 L741.2,487.8 L742.2,487.7 L743.2,487.7 L744.2,487.6 L745.2,487.6 L746.2,487.5 L747.2,487.4 L748.2,487.4 L749.2,487.3 L750.2,487.3 L751.2,487.2 L752.2,487.2 L753.2,487.1 L754.2,487.1 L755.2,487.0 L756.2,487.0 L757.2,486.9 L758.2,486.9 L759.2,486.8 L760.2,486.8 L761.2,486.7 L762.2,486.7 L763.2,486.6 L764.2,486.5 L765.2,486.5 L766.1,486.4 L767.1,486.4 L768.1,486.3 L769.1,486.3 L770.1,486.2 L771.1,486.2 L772.1,486.1 L773.1,486.1 L774.1,486.0 L775.1,486.0 L776.1,486.0 L777.1,485.9 L778.1,485.9 L779.1,485.8 L780.1,485.8 L781.1,485.7 L782.1,485.7 L783.1,485.6 L784.1,485.6 L785.1,485.6 L786.1,485.5 L787.1,485.5 L788.1,485.4 L789.1,485.4 L790.1,485.3 L791.1,485.3 L792.1,485.3 L793.1,485.2 L794.0,485.2 L795.0,485.1 L796.0,485.1 L797.0,485.0 L798.0,485.0 L799.0,485.0 L800.0,484.9 L801.0,484.9 L802.0,484.9 L803.0,484.8 L804.0,484.8 L805.0,484.7 L806.0,484.7 L807.0,484.7"/>
</g>
<g stroke="#000000" stroke-width="4.6" stroke-dasharray="16.8 8.4">
<path d="M149.4,191.8 L150.4,191.8 L151.4,191.8 L152.4,191.9 L153.4,192.0 L154.4,192.1 L155.4,192.2 L156.4,192.4 L157.4,192.5 L158.4,192.7 L159.4,192.9 L160.4,193.2 L161.4,193.4 L162.4,193.7 L163.3,194.0 L164.3,194.4 L165.3,194.7 L166.3,195.1 L167.3,195.5 L168.3,195.9 L169.3,196.3 L170.3,196.8 L171.3,197.2 L172.3,197.7 L173.3,198.2 L174.3,198.8 L175.3,199.3 L176.3,199.9 L177.3,200.4 L178.3,201.0 L179.3,201.6 L180.3,202.2 L181.3,202.8 L182.3,203.5 L183.3,204.2 L184.3,204.8 L185.3,205.5 L186.3,206.2 L187.3,207.0 L188.3,207.7 L189.3,208.5 L190.3,209.3 L191.2,210.1 L192.2,210.9 L193.2,211.8 L194.2,212.6 L195.2,213.5 L196.2,214.4 L197.2,215.3 L198.2,216.2 L199.2,217.1 L200.2,218.1 L201.2,219.1 L202.2,220.0 L203.2,221.0 L204.2,222.0 L205.2,223.0 L206.2,224.1 L207.2,225.1 L208.2,226.2 L209.2,227.2 L210.2,228.3 L211.2,229.4 L212.2,230.5 L213.2,231.6 L214.2,232.7 L215.2,233.8 L216.2,234.9 L217.2,236.0 L218.1,237.1 L219.1,238.2 L220.1,239.4 L221.1,240.5 L222.1,241.6 L223.1,242.8 L224.1,243.9 L225.1,245.1 L226.1,246.2 L227.1,247.4 L228.1,248.5 L229.1,249.7 L230.1,250.8 L231.1,251.9 L232.1,253.0 L233.1,254.2 L234.1,255.3 L235.1,256.3 L236.1,257.4 L237.1,258.5 L238.1,259.6 L239.1,260.6 L240.1,261.7 L241.1,262.8 L242.1,263.8 L243.1,264.9 L244.1,265.9 L245.1,267.0 L246.0,268.0 L247.0,269.1 L248.0,270.1 L249.0,271.2 L250.0,272.3 L251.0,273.3 L252.0,274.4 L253.0,275.4 L254.0,276.5 L255.0,277.6 L256.0,278.7 L257.0,279.8 L258.0,280.8 L259.0,281.9 L260.0,283.0 L261.0,284.2 L262.0,285.3 L263.0,286.4 L264.0,287.5 L265.0,288.7 L266.0,289.8 L267.0,291.0 L268.0,292.2 L269.0,293.3 L270.0,294.5 L271.0,295.7 L272.0,296.8 L272.9,298.0 L273.9,299.2 L274.9,300.3 L275.9,301.5 L276.9,302.6 L277.9,303.7 L278.9,304.8 L279.9,305.9 L280.9,307.0 L281.9,308.1 L282.9,309.2 L283.9,310.2 L284.9,311.2 L285.9,312.3 L286.9,313.3 L287.9,314.3 L288.9,315.3 L289.9,316.3 L290.9,317.3 L291.9,318.3 L292.9,319.3 L293.9,320.3 L294.9,321.3 L295.9,322.3 L296.9,323.3 L297.9,324.3 L298.9,325.3 L299.9,326.3 L300.8,327.2 L301.8,328.2 L302.8,329.2 L303.8,330.1 L304.8,331.1 L305.8,332.0 L306.8,333.0 L307.8,333.9 L308.8,334.9 L309.8,335.8 L310.8,336.7 L311.8,337.6 L312.8,338.6 L313.8,339.5 L314.8,340.4 L315.8,341.3 L316.8,342.2 L317.8,343.1 L318.8,344.0 L319.8,344.9 L320.8,345.7 L321.8,346.6 L322.8,347.5 L323.8,348.3 L324.2,348.6"/>
<path d="M323.8,348.3 L324.8,349.2 L325.8,350.0 L326.8,350.8 L327.7,351.7 L328.7,352.5 L329.7,353.4 L330.7,354.2 L331.7,355.1 L332.7,355.9 L333.7,356.8 L334.7,357.7 L335.7,358.5 L336.7,359.4 L337.7,360.3 L338.7,361.2 L339.7,362.0 L340.7,362.9 L341.7,363.8 L342.7,364.6 L343.7,365.5 L344.7,366.3 L345.7,367.1 L346.7,367.9 L347.7,368.7 L348.7,369.5 L349.7,370.3 L350.7,371.1 L351.7,371.9 L352.7,372.6 L353.7,373.4 L354.7,374.1 L355.6,374.9 L356.6,375.6 L357.6,376.3 L358.6,377.1 L359.6,377.8 L360.6,378.5 L361.6,379.2 L362.6,379.9 L363.6,380.6 L364.6,381.3 L365.6,382.0 L366.6,382.7 L367.6,383.4 L368.6,384.0 L369.6,384.7 L370.6,385.3 L371.6,385.9 L372.6,386.6 L373.6,387.2 L374.6,387.8 L375.6,388.5 L376.6,389.1 L377.6,389.7 L378.6,390.3 L379.6,390.9 L380.6,391.6 L381.6,392.2 L382.5,392.8 L383.5,393.4 L384.5,394.0 L385.5,394.6 L386.5,395.1 L387.5,395.7 L388.5,396.3 L389.5,396.8 L390.5,397.4 L391.5,397.9 L392.5,398.5 L393.5,399.0 L394.5,399.6 L395.5,400.1 L396.5,400.6 L397.5,401.2 L398.5,401.7 L399.5,402.2 L400.5,402.8 L401.5,403.3 L402.5,403.9 L403.5,404.4 L404.5,404.9 L405.5,405.5 L406.5,406.0 L407.5,406.6 L408.5,407.1 L409.5,407.6 L410.4,408.1 L411.4,408.6 L412.4,409.2 L413.4,409.7 L414.4,410.2 L415.4,410.7 L416.4,411.1 L417.4,411.6 L418.4,412.1 L419.4,412.6 L420.4,413.1 L421.4,413.6 L422.4,414.0 L423.4,414.5 L424.4,415.0 L425.4,415.4 L426.4,415.9 L427.4,416.3 L428.4,416.8 L429.4,417.2 L430.4,417.7 L431.4,418.1 L432.4,418.6 L433.4,419.0 L434.4,419.4 L435.4,419.8 L436.4,420.3 L437.3,420.7 L438.3,421.1 L439.3,421.5 L440.3,421.9 L441.3,422.3 L442.3,422.7 L443.3,423.0 L444.3,423.4 L445.3,423.8 L446.3,424.1 L447.3,424.5 L448.3,424.9 L449.3,425.2 L450.3,425.6 L451.3,425.9 L452.3,426.3 L453.3,426.6 L454.3,426.9 L455.3,427.3 L456.3,427.6 L457.3,427.9 L458.3,428.3 L459.3,428.6 L460.3,428.9 L461.3,429.2 L462.3,429.5 L463.3,429.9 L464.3,430.2 L465.2,430.5 L466.2,430.8 L467.2,431.1 L468.2,431.4 L469.2,431.8 L470.2,432.1 L471.2,432.4 L472.2,432.7 L473.2,433.0 L474.2,433.3 L475.2,433.7 L476.2,434.0 L477.2,434.3 L478.2,434.6 L479.2,434.9 L480.2,435.3 L481.2,435.6 L482.2,435.9 L483.2,436.2 L484.2,436.5 L485.2,436.8 L486.2,437.1 L487.2,437.4 L488.2,437.7 L489.2,437.9 L490.2,438.2 L491.2,438.5 L492.1,438.8 L493.1,439.0 L494.1,439.3 L495.1,439.5 L496.1,439.8 L497.1,440.0 L498.1,440.2 L499.1,440.5 L500.1,440.7 L501.1,440.9 L502.4,441.2"/>
<path d="M502.1,441.2 L502.1,441.2 L503.1,441.4 L504.1,441.6 L505.1,441.8 L506.1,442.1 L507.1,442.3 L508.1,442.5 L509.1,442.8 L510.1,443.0 L511.1,443.2 L512.1,443.4 L513.1,443.7 L514.1,443.9 L515.1,444.1 L516.1,444.3 L517.1,444.6 L518.1,444.8 L519.1,445.0 L520.0,445.2 L521.0,445.5 L522.0,445.7 L523.0,445.9 L524.0,446.1 L525.0,446.3 L526.0,446.5 L527.0,446.7 L528.0,447.0 L529.0,447.2 L530.0,447.4 L531.0,447.6 L532.0,447.8 L533.0,448.0 L534.0,448.1 L535.0,448.3 L536.0,448.5 L537.0,448.7 L538.0,448.9 L539.0,449.1 L540.0,449.2 L541.0,449.4 L542.0,449.6 L543.0,449.7 L544.0,449.9 L545.0,450.0 L546.0,450.2 L546.9,450.4 L547.9,450.5 L548.9,450.7 L549.9,450.8 L550.9,451.0 L551.9,451.2 L552.9,451.3 L553.9,451.5 L554.9,451.7 L555.9,451.8 L556.9,452.0 L557.9,452.2 L558.9,452.4 L559.9,452.5 L560.9,452.7 L561.9,452.9 L562.9,453.0 L563.9,453.2 L564.9,453.4 L565.9,453.5 L566.9,453.7 L567.9,453.9 L568.9,454.0 L569.9,454.2 L570.9,454.3 L571.9,454.5 L572.9,454.6 L573.9,454.8 L574.8,454.9 L575.8,455.0 L576.8,455.2 L577.8,455.3 L578.8,455.5 L579.8,455.6 L580.8,455.7 L581.8,455.9 L582.8,456.0 L583.8,456.1 L584.8,456.3 L585.8,456.4 L586.8,456.5 L587.8,456.6 L588.8,456.7 L589.8,456.9 L590.8,457.0 L591.8,457.1 L592.8,457.2 L593.8,457.3 L594.8,457.4 L595.8,457.5 L596.8,457.6 L597.8,457.7 L598.8,457.7 L599.8,457.8 L600.8,457.9 L601.7,458.0 L602.7,458.1 L603.7,458.2 L604.7,458.3 L605.7,458.4 L606.7,458.5 L607.7,458.6 L608.7,458.7 L609.7,458.8 L610.7,458.9 L611.7,459.0 L612.7,459.1 L613.7,459.3 L614.7,459.4 L615.7,459.5 L616.7,459.6 L617.7,459.7 L618.7,459.8 L619.7,459.9 L620.7,460.0 L621.7,460.1 L622.7,460.2 L623.7,460.3 L624.7,460.4 L625.7,460.5 L626.7,460.6 L627.7,460.7 L628.7,460.8 L629.6,460.9 L630.6,461.0 L631.6,461.1 L632.6,461.2 L633.6,461.3 L634.6,461.4 L635.6,461.5 L636.6,461.6 L637.6,461.7 L638.6,461.7 L639.6,461.8 L640.6,461.9 L641.6,462.0 L642.6,462.1 L643.6,462.1 L644.6,462.2 L645.6,462.3 L646.6,462.4 L647.6,462.4 L648.6,462.5 L649.6,462.6 L650.6,462.7 L651.6,462.7 L652.6,462.8 L653.6,462.9 L654.6,463.0 L655.6,463.0 L656.5,463.1 L657.5,463.2 L658.5,463.3 L659.5,463.4 L660.5,463.5 L661.5,463.5 L662.5,463.6 L663.5,463.7 L664.5,463.8 L665.5,463.9 L666.5,464.0 L667.5,464.1 L668.5,464.2 L669.5,464.3 L670.5,464.4 L671.5,464.5 L672.5,464.6 L673.5,464.6 L674.5,464.7 L675.5,464.8 L676.5,464.9 L677.5,465.0 L678.5,465.1 L679.5,465.2 L680.6,465.3"/>
<path d="M680.2,465.3 L680.5,465.3 L681.5,465.4 L682.5,465.5 L683.5,465.6 L684.4,465.7 L685.4,465.7 L686.4,465.8 L687.4,465.9 L688.4,466.0 L689.4,466.1 L690.4,466.1 L691.4,466.2 L692.4,466.3 L693.4,466.4 L694.4,466.4 L695.4,466.5 L696.4,466.6 L697.4,466.7 L698.4,466.7 L699.4,466.8 L700.4,466.8 L701.4,466.9 L702.4,467.0 L703.4,467.0 L704.4,467.1 L705.4,467.2 L706.4,467.2 L707.4,467.3 L708.4,467.3 L709.4,467.4 L710.4,467.4 L711.3,467.5 L712.3,467.6 L713.3,467.6 L714.3,467.7 L715.3,467.7 L716.3,467.8 L717.3,467.8 L718.3,467.9 L719.3,467.9 L720.3,468.0 L721.3,468.0 L722.3,468.1 L723.3,468.1 L724.3,468.2 L725.3,468.2 L726.3,468.3 L727.3,468.3 L728.3,468.4 L729.3,468.4 L730.3,468.5 L731.3,468.5 L732.3,468.5 L733.3,468.6 L734.3,468.6 L735.3,468.7 L736.3,468.7 L737.3,468.7 L738.3,468.8 L739.2,468.8 L740.2,468.9 L741.2,468.9 L742.2,468.9 L743.2,469.0 L744.2,469.0 L745.2,469.0 L746.2,469.1 L747.2,469.1 L748.2,469.1 L749.2,469.2 L750.2,469.2 L751.2,469.2 L752.2,469.2 L753.2,469.3 L754.2,469.3 L755.2,469.3 L756.2,469.4 L757.2,469.4 L758.2,469.4 L759.2,469.4 L760.2,469.5 L761.2,469.5 L762.2,469.5 L763.2,469.5 L764.2,469.6 L765.2,469.6 L766.1,469.6 L767.1,469.6 L768.1,469.6 L769.1,469.7 L770.1,469.7 L771.1,469.7 L772.1,469.7 L773.1,469.8 L774.1,469.8 L775.1,469.8 L776.1,469.8 L777.1,469.8 L778.1,469.9 L779.1,469.9 L780.1,469.9 L781.1,469.9 L782.1,469.9 L783.1,470.0 L784.1,470.0 L785.1,470.0 L786.1,470.0 L787.1,470.1 L788.1,470.1 L789.1,470.1 L790.1,470.1 L791.1,470.2 L792.1,470.2 L793.1,470.2 L794.0,470.2 L795.0,470.3 L796.0,470.3 L797.0,470.3 L798.0,470.3 L799.0,470.4 L800.0,470.4 L801.0,470.4 L802.0,470.4 L803.0,470.5 L804.0,470.5 L805.0,470.5 L806.0,470.6 L807.0,470.6"/>
</g>
<g stroke="#888888" stroke-width="4.4" stroke-dasharray="12.6 12.5 4.4 12.5">
<path d="M149.4,342.2 L150.4,342.2 L151.4,342.2 L152.4,342.2 L153.4,342.3 L154.4,342.3 L155.4,342.4 L156.4,342.5 L157.4,342.6 L158.4,342.7 L159.4,342.9 L160.4,343.0 L161.4,343.2 L162.4,343.3 L163.3,343.5 L164.3,343.7 L165.3,343.9 L166.3,344.1 L167.3,344.4 L168.3,344.6 L169.3,344.9 L170.3,345.1 L171.3,345.4 L172.3,345.7 L173.3,346.0 L174.3,346.4 L175.3,346.7 L176.3,347.0 L177.3,347.4 L178.3,347.7 L179.3,348.1 L180.3,348.5 L181.3,348.9 L182.3,349.3 L183.3,349.7 L184.3,350.1 L185.3,350.5 L186.3,350.9 L187.3,351.3 L188.3,351.7 L189.3,352.1 L190.3,352.6 L191.2,353.0 L192.2,353.4 L193.2,353.9 L194.2,354.3 L195.2,354.8 L196.2,355.2 L197.2,355.7 L198.2,356.2 L199.2,356.7 L200.2,357.2 L201.2,357.7 L202.2,358.2 L203.2,358.7 L204.2,359.3 L205.2,359.8 L206.2,360.4 L207.2,360.9 L208.2,361.5 L209.2,362.1 L210.2,362.7 L211.2,363.2 L212.2,363.8 L213.2,364.4 L214.2,365.1 L215.2,365.7 L216.2,366.3 L217.2,366.9 L218.1,367.5 L219.1,368.1 L220.1,368.7 L221.1,369.3 L222.1,369.9 L223.1,370.5 L224.1,371.1 L225.1,371.7 L226.1,372.3 L227.1,372.8 L228.1,373.4 L229.1,374.0 L230.1,374.6 L231.1,375.1 L232.1,375.7 L233.1,376.3 L234.1,376.9 L235.1,377.4 L236.1,378.0 L237.1,378.6 L238.1,379.1 L239.1,379.7 L240.1,380.3 L241.1,380.9 L242.1,381.5 L243.1,382.1 L244.1,382.7 L245.1,383.3 L246.0,383.9 L247.0,384.5 L248.0,385.1 L249.0,385.7 L250.0,386.3 L251.0,386.9 L252.0,387.5 L253.0,388.1 L254.0,388.8 L255.0,389.4 L256.0,390.0 L257.0,390.6 L258.0,391.2 L259.0,391.7 L260.0,392.3 L261.0,392.9 L262.0,393.5 L263.0,394.1 L264.0,394.6 L265.0,395.2 L266.0,395.7 L267.0,396.3 L268.0,396.8 L269.0,397.3 L270.0,397.9 L271.0,398.4 L272.0,398.9 L272.9,399.4 L273.9,400.0 L274.9,400.5 L275.9,401.0 L276.9,401.5 L277.9,402.0 L278.9,402.5 L279.9,403.1 L280.9,403.6 L281.9,404.1 L282.9,404.6 L283.9,405.1 L284.9,405.6 L285.9,406.1 L286.9,406.6 L287.9,407.1 L288.9,407.6 L289.9,408.1 L290.9,408.6 L291.9,409.1 L292.9,409.6 L293.9,410.1 L294.9,410.5 L295.9,411.0 L296.9,411.5 L297.9,411.9 L298.9,412.4 L299.9,412.8 L300.8,413.3 L301.8,413.7 L302.8,414.2 L303.8,414.6 L304.8,415.0 L305.8,415.5 L306.8,415.9 L307.8,416.3 L308.8,416.8 L309.8,417.2 L310.8,417.6 L311.8,418.1 L312.8,418.5 L313.8,418.9 L314.8,419.4 L315.8,419.8 L316.8,420.2 L317.8,420.7 L318.8,421.1 L319.8,421.5 L320.8,422.0 L321.8,422.4 L322.8,422.9 L323.8,423.3 L324.2,423.5"/>
<path d="M323.8,423.3 L324.8,423.7 L325.8,424.1 L326.8,424.6 L327.7,425.0 L328.7,425.4 L329.7,425.8 L330.7,426.2 L331.7,426.6 L332.7,427.0 L333.7,427.5 L334.7,427.9 L335.7,428.2 L336.7,428.6 L337.7,429.0 L338.7,429.4 L339.7,429.8 L340.7,430.2 L341.7,430.5 L342.7,430.9 L343.7,431.3 L344.7,431.6 L345.7,432.0 L346.7,432.4 L347.7,432.7 L348.7,433.1 L349.7,433.4 L350.7,433.7 L351.7,434.1 L352.7,434.4 L353.7,434.7 L354.7,435.1 L355.6,435.4 L356.6,435.7 L357.6,436.0 L358.6,436.3 L359.6,436.6 L360.6,436.9 L361.6,437.2 L362.6,437.5 L363.6,437.8 L364.6,438.1 L365.6,438.4 L366.6,438.7 L367.6,439.0 L368.6,439.3 L369.6,439.6 L370.6,439.8 L371.6,440.1 L372.6,440.4 L373.6,440.7 L374.6,441.0 L375.6,441.2 L376.6,441.5 L377.6,441.8 L378.6,442.1 L379.6,442.3 L380.6,442.6 L381.6,442.9 L382.5,443.1 L383.5,443.4 L384.5,443.7 L385.5,443.9 L386.5,444.2 L387.5,444.4 L388.5,444.7 L389.5,444.9 L390.5,445.2 L391.5,445.4 L392.5,445.7 L393.5,445.9 L394.5,446.1 L395.5,446.4 L396.5,446.6 L397.5,446.8 L398.5,447.1 L399.5,447.3 L400.5,447.5 L401.5,447.8 L402.5,448.0 L403.5,448.2 L404.5,448.4 L405.5,448.6 L406.5,448.9 L407.5,449.1 L408.5,449.3 L409.5,449.5 L410.4,449.7 L411.4,449.9 L412.4,450.1 L413.4,450.3 L414.4,450.5 L415.4,450.7 L416.4,450.9 L417.4,451.1 L418.4,451.3 L419.4,451.4 L420.4,451.6 L421.4,451.8 L422.4,452.0 L423.4,452.1 L424.4,452.3 L425.4,452.5 L426.4,452.6 L427.4,452.8 L428.4,453.0 L429.4,453.1 L430.4,453.3 L431.4,453.5 L432.4,453.6 L433.4,453.8 L434.4,454.0 L435.4,454.1 L436.4,454.3 L437.3,454.5 L438.3,454.6 L439.3,454.8 L440.3,455.0 L441.3,455.1 L442.3,455.3 L443.3,455.5 L444.3,455.6 L445.3,455.8 L446.3,455.9 L447.3,456.0 L448.3,456.2 L449.3,456.3 L450.3,456.4 L451.3,456.6 L452.3,456.7 L453.3,456.8 L454.3,456.9 L455.3,457.1 L456.3,457.2 L457.3,457.3 L458.3,457.4 L459.3,457.5 L460.3,457.7 L461.3,457.8 L462.3,457.9 L463.3,458.0 L464.3,458.2 L465.2,458.3 L466.2,458.4 L467.2,458.5 L468.2,458.7 L469.2,458.8 L470.2,458.9 L471.2,459.0 L472.2,459.1 L473.2,459.3 L474.2,459.4 L475.2,459.5 L476.2,459.6 L477.2,459.7 L478.2,459.9 L479.2,460.0 L480.2,460.1 L481.2,460.2 L482.2,460.3 L483.2,460.4 L484.2,460.5 L485.2,460.6 L486.2,460.7 L487.2,460.8 L488.2,460.9 L489.2,461.0 L490.2,461.1 L491.2,461.2 L492.1,461.3 L493.1,461.4 L494.1,461.5 L495.1,461.5 L496.1,461.6 L497.1,461.7 L498.1,461.8 L499.1,461.9 L500.1,461.9 L501.1,462.0 L502.4,462.1"/>
<path d="M502.1,462.1 L502.1,462.1 L503.1,462.1 L504.1,462.2 L505.1,462.2 L506.1,462.3 L507.1,462.4 L508.1,462.4 L509.1,462.5 L510.1,462.5 L511.1,462.6 L512.1,462.6 L513.1,462.7 L514.1,462.8 L515.1,462.8 L516.1,462.9 L517.1,462.9 L518.1,463.0 L519.1,463.1 L520.0,463.1 L521.0,463.2 L522.0,463.3 L523.0,463.4 L524.0,463.4 L525.0,463.5 L526.0,463.6 L527.0,463.7 L528.0,463.8 L529.0,463.9 L530.0,464.0 L531.0,464.1 L532.0,464.2 L533.0,464.2 L534.0,464.3 L535.0,464.4 L536.0,464.5 L537.0,464.6 L538.0,464.7 L539.0,464.8 L540.0,464.9 L541.0,465.0 L542.0,465.0 L543.0,465.1 L544.0,465.2 L545.0,465.3 L546.0,465.4 L546.9,465.4 L547.9,465.5 L548.9,465.6 L549.9,465.7 L550.9,465.7 L551.9,465.8 L552.9,465.9 L553.9,465.9 L554.9,466.0 L555.9,466.1 L556.9,466.1 L557.9,466.2 L558.9,466.2 L559.9,466.3 L560.9,466.3 L561.9,466.4 L562.9,466.5 L563.9,466.5 L564.9,466.6 L565.9,466.6 L566.9,466.7 L567.9,466.7 L568.9,466.8 L569.9,466.8 L570.9,466.9 L571.9,466.9 L572.9,467.0 L573.9,467.1 L574.8,467.1 L575.8,467.2 L576.8,467.2 L577.8,467.3 L578.8,467.3 L579.8,467.4 L580.8,467.4 L581.8,467.5 L582.8,467.5 L583.8,467.6 L584.8,467.6 L585.8,467.7 L586.8,467.7 L587.8,467.7 L588.8,467.8 L589.8,467.8 L590.8,467.8 L591.8,467.9 L592.8,467.9 L593.8,467.9 L594.8,468.0 L595.8,468.0 L596.8,468.0 L597.8,468.0 L598.8,468.0 L599.8,468.1 L600.8,468.1 L601.7,468.1 L602.7,468.1 L603.7,468.1 L604.7,468.2 L605.7,468.2 L606.7,468.2 L607.7,468.2 L608.7,468.2 L609.7,468.2 L610.7,468.3 L611.7,468.3 L612.7,468.3 L613.7,468.3 L614.7,468.3 L615.7,468.4 L616.7,468.4 L617.7,468.4 L618.7,468.4 L619.7,468.5 L620.7,468.5 L621.7,468.5 L622.7,468.6 L623.7,468.6 L624.7,468.6 L625.7,468.6 L626.7,468.7 L627.7,468.7 L628.7,468.7 L629.6,468.8 L630.6,468.8 L631.6,468.8 L632.6,468.9 L633.6,468.9 L634.6,468.9 L635.6,468.9 L636.6,469.0 L637.6,469.0 L638.6,469.0 L639.6,469.1 L640.6,469.1 L641.6,469.1 L642.6,469.1 L643.6,469.2 L644.6,469.2 L645.6,469.2 L646.6,469.3 L647.6,469.3 L648.6,469.3 L649.6,469.3 L650.6,469.4 L651.6,469.4 L652.6,469.4 L653.6,469.4 L654.6,469.5 L655.6,469.5 L656.5,469.5 L657.5,469.6 L658.5,469.6 L659.5,469.6 L660.5,469.6 L661.5,469.7 L662.5,469.7 L663.5,469.7 L664.5,469.7 L665.5,469.8 L666.5,469.8 L667.5,469.8 L668.5,469.8 L669.5,469.9 L670.5,469.9 L671.5,469.9 L672.5,470.0 L673.5,470.0 L674.5,470.0 L675.5,470.0 L676.5,470.1 L677.5,470.1 L678.5,470.1 L679.5,470.2 L680.6,470.2"/>
<path d="M680.2,470.2 L680.5,470.2 L681.5,470.2 L682.5,470.2 L683.5,470.3 L684.4,470.3 L685.4,470.3 L686.4,470.4 L687.4,470.4 L688.4,470.4 L689.4,470.5 L690.4,470.5 L691.4,470.5 L692.4,470.6 L693.4,470.6 L694.4,470.6 L695.4,470.6 L696.4,470.7 L697.4,470.7 L698.4,470.7 L699.4,470.8 L700.4,470.8 L701.4,470.8 L702.4,470.9 L703.4,470.9 L704.4,470.9 L705.4,471.0 L706.4,471.0 L707.4,471.0 L708.4,471.1 L709.4,471.1 L710.4,471.1 L711.3,471.1 L712.3,471.2 L713.3,471.2 L714.3,471.2 L715.3,471.3 L716.3,471.3 L717.3,471.3 L718.3,471.3 L719.3,471.4 L720.3,471.4 L721.3,471.4 L722.3,471.4 L723.3,471.5 L724.3,471.5 L725.3,471.5 L726.3,471.5 L727.3,471.5 L728.3,471.6 L729.3,471.6 L730.3,471.6 L731.3,471.6 L732.3,471.6 L733.3,471.7 L734.3,471.7 L735.3,471.7 L736.3,471.7 L737.3,471.7 L738.3,471.7 L739.2,471.8 L740.2,471.8 L741.2,471.8 L742.2,471.8 L743.2,471.8 L744.2,471.8 L745.2,471.8 L746.2,471.9 L747.2,471.9 L748.2,471.9 L749.2,471.9 L750.2,471.9 L751.2,471.9 L752.2,471.9 L753.2,472.0 L754.2,472.0 L755.2,472.0 L756.2,472.0 L757.2,472.0 L758.2,472.0 L759.2,472.0 L760.2,472.0 L761.2,472.0 L762.2,472.1 L763.2,472.1 L764.2,472.1 L765.2,472.1 L766.1,472.1 L767.1,472.1 L768.1,472.1 L769.1,472.1 L770.1,472.1 L771.1,472.1 L772.1,472.1 L773.1,472.1 L774.1,472.1 L775.1,472.2 L776.1,472.2 L777.1,472.2 L778.1,472.2 L779.1,472.2 L780.1,472.2 L781.1,472.2 L782.1,472.2 L783.1,472.2 L784.1,472.2 L785.1,472.2 L786.1,472.2 L787.1,472.2 L788.1,472.2 L789.1,472.2 L790.1,472.2 L791.1,472.2 L792.1,472.2 L793.1,472.2 L794.0,472.2 L795.0,472.2 L796.0,472.2 L797.0,472.2 L798.0,472.2 L799.0,472.3 L800.0,472.3 L801.0,472.3 L802.0,472.3 L803.0,472.3 L804.0,472.3 L805.0,472.3 L806.0,472.3 L807.0,472.3"/>
</g>
</g>
<g stroke="#000" stroke-width="1.32" fill="none" stroke-linecap="butt">
<rect x="149.4" y="52.6" width="657.60" height="490.25"/>
</g>
<path d="M171.32,542.85v-3.4M171.32,52.6v3.4M193.24,542.85v-3.4M193.24,52.6v3.4M215.16,542.85v-3.4M215.16,52.6v3.4M237.08,542.85v-3.4M237.08,52.6v3.4M259.00,542.85v-7.0M259.00,52.6v7.0M280.92,542.85v-3.4M280.92,52.6v3.4M302.84,542.85v-3.4M302.84,52.6v3.4M324.76,542.85v-3.4M324.76,52.6v3.4M346.68,542.85v-3.4M346.68,52.6v3.4M368.60,542.85v-7.0M368.60,52.6v7.0M390.52,542.85v-3.4M390.52,52.6v3.4M412.44,542.85v-3.4M412.44,52.6v3.4M434.36,542.85v-3.4M434.36,52.6v3.4M456.28,542.85v-3.4M456.28,52.6v3.4M478.20,542.85v-7.0M478.20,52.6v7.0M500.12,542.85v-3.4M500.12,52.6v3.4M522.04,542.85v-3.4M522.04,52.6v3.4M543.96,542.85v-3.4M543.96,52.6v3.4M565.88,542.85v-3.4M565.88,52.6v3.4M587.80,542.85v-7.0M587.80,52.6v7.0M609.72,542.85v-3.4M609.72,52.6v3.4M631.64,542.85v-3.4M631.64,52.6v3.4M653.56,542.85v-3.4M653.56,52.6v3.4M675.48,542.85v-3.4M675.48,52.6v3.4M697.40,542.85v-7.0M697.40,52.6v7.0M719.32,542.85v-3.4M719.32,52.6v3.4M741.24,542.85v-3.4M741.24,52.6v3.4M763.16,542.85v-3.4M763.16,52.6v3.4M785.08,542.85v-3.4M785.08,52.6v3.4M149.4,507.83h3.4M807.0,507.83h-3.4M149.4,472.81h7.0M807.0,472.81h-7.0M149.4,437.80h3.4M807.0,437.80h-3.4M149.4,402.78h7.0M807.0,402.78h-7.0M149.4,367.76h3.4M807.0,367.76h-3.4M149.4,332.74h7.0M807.0,332.74h-7.0M149.4,297.73h3.4M807.0,297.73h-3.4M149.4,262.71h7.0M807.0,262.71h-7.0M149.4,227.69h3.4M807.0,227.69h-3.4M149.4,192.67h7.0M807.0,192.67h-7.0M149.4,157.65h3.4M807.0,157.65h-3.4M149.4,122.64h7.0M807.0,122.64h-7.0M149.4,87.62h3.4M807.0,87.62h-3.4" stroke="#222" stroke-width="0.85" fill="none"/>
<g font-size="30.4" text-anchor="middle">
<text x="149.2" y="582.0">0.0</text>
<text x="258.8" y="582.0">0.5</text>
<text x="368.4" y="582.0">1.0</text>
<text x="478.0" y="582.0">1.5</text>
<text x="587.6" y="582.0">2.0</text>
<text x="697.2" y="582.0">2.5</text>
<text x="806.8" y="582.0">3.0</text>
</g>
<g font-size="30.4" text-anchor="end">
<text x="131.6" y="553.0">-0.1</text>
<text x="131.6" y="483.0">0.0</text>
<text x="131.6" y="413.0">0.1</text>
<text x="131.6" y="343.0">0.2</text>
<text x="131.6" y="272.9">0.3</text>
<text x="131.6" y="202.9">0.4</text>
<text x="131.6" y="132.9">0.5</text>
<text x="131.6" y="62.9">0.6</text>
</g>
<g>
<text transform="translate(439.44,625.90) scale(1.1067,0.9975)" font-size="30.0">r</text>
<text transform="translate(461.99,626.24) scale(0.9215,1.0734)" font-size="30.0">(</text>
<text transform="translate(472.11,625.90) scale(1.0698,0.9894)" font-size="30.0">f</text>
<text transform="translate(480.23,625.90) scale(1.0658,0.9975)" font-size="30.0">m</text>
<text transform="translate(506.33,626.24) scale(0.8955,1.0734)" font-size="30.0">)</text>
</g>
<g transform="translate(36.0,330) rotate(-90)">
<text transform="translate(0.72,0.02) scale(0.9651,0.9458)" font-size="30.0">u</text>
<text transform="translate(16.78,8.15) scale(0.8693,0.6968)" font-size="30.0">p</text>
<text transform="translate(31.52,0.30) scale(0.9734,1.0808)" font-size="30.0">(</text>
<text transform="translate(41.36,0.00) scale(1.0739,0.9197)" font-size="30.0">r</text>
<text transform="translate(53.48,0.30) scale(0.9474,1.0808)" font-size="30.0">)</text>
</g>
<g>
<text transform="translate(363.62,111.60) scale(0.9502,1.0806)" font-size="30.0">A</text>
<text transform="translate(407.61,111.60) scale(1.0111,1.0230)" font-size="30.0">4</text>
<text transform="translate(442.72,111.60) scale(0.9597,1.0806)" font-size="30.0">A</text>
<text transform="translate(462.55,111.52) scale(1.0481,1.0648)" font-size="30.0">V</text>
<text transform="translate(486.53,111.60) scale(0.8616,1.0200)" font-size="30.0">1</text>
<text transform="translate(500.98,111.70) scale(0.9831,1.0275)" font-size="30.0">8</text>
<text transform="translate(539.00,111.69) scale(1.1125,1.0734)" font-size="30.0">U</text>
<text transform="translate(562.70,111.60) scale(1.1972,1.0691)" font-size="30.0">I</text>
<text transform="translate(573.11,111.60) scale(0.8894,1.0691)" font-size="30.0">X</text>
<path d="M386.3,101.1H405.9M386.3,106.4H405.9M517.3,103.6H536.6M527,93.7V113.4" stroke="#000" stroke-width="1.15" fill="none"/>
</g>
<g fill="none" stroke-linecap="butt">
<path d="M654.2,102.7H710.6" stroke="#008000" stroke-width="4.4" stroke-dasharray="24.8 8.6 4.2 8.6"/>
<path d="M654.2,143.7H710.6" stroke="#0000ff" stroke-width="4.4" stroke-dasharray="8.8 12.2"/>
<path d="M654.2,184.9H710.6" stroke="#00ffff" stroke-width="4.6"/>
<path d="M654.2,226.2H710.6" stroke="#ff0000" stroke-width="4.4" stroke-dasharray="4.4 8.1 25.2 8.1 4.4 8.1"/>
<path d="M654.2,267.4H710.6" stroke="#8b4110" stroke-width="4.4" stroke-dasharray="4.3 6.2"/>
<path d="M654.2,308.7H710.6" stroke="#000000" stroke-width="4.6" stroke-dasharray="16.8 8.4"/>
<path d="M654.2,349.8H710.6" stroke="#888888" stroke-width="4.4" stroke-dasharray="12.6 12.5 4.4 12.5"/>
</g>
<text transform="translate(727.0,112.6) scale(1.1,0.89)" font-size="31" stroke="#000" stroke-width="0.5">τ</text>
<text transform="translate(728.4,153.6) scale(1.1,0.89)" font-size="31" stroke="#000" stroke-width="0.5">σ</text>
<text transform="translate(728.4,194.8) scale(1.1,0.89)" font-size="31" stroke="#000" stroke-width="0.5">σ</text>
<text transform="translate(743.8,194.8) scale(1.1,0.89)" font-size="31" stroke="#000" stroke-width="0.5">τ</text>
<text x="728.6" y="236.1" font-size="30.4">t</text>
<text x="728.6" y="277.3" font-size="30.4">t</text>
<text transform="translate(738.0,277.3) scale(1.1,0.89)" font-size="31" stroke="#000" stroke-width="0.5">τ</text>
<text x="728.6" y="318.6" font-size="30.4">ls</text>
<text x="728.6" y="359.7" font-size="30.4">ls</text>
<text transform="translate(745.8,359.7) scale(1.1,0.89)" font-size="31" stroke="#000" stroke-width="0.5">τ</text>
</svg></body></html>
